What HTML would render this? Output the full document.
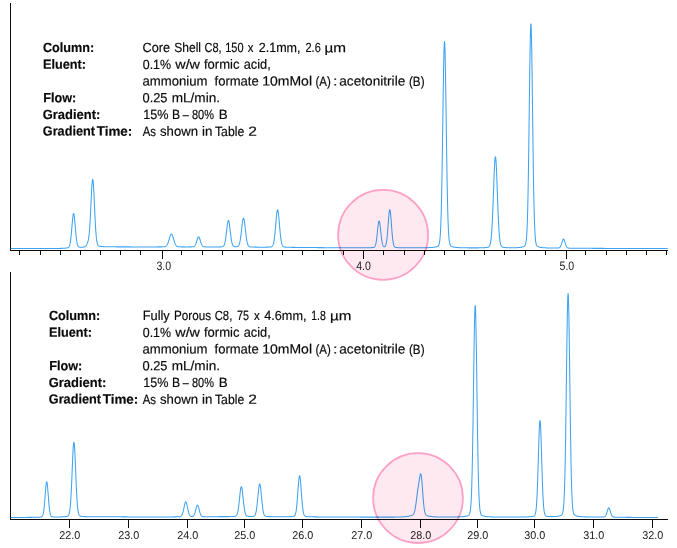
<!DOCTYPE html>
<html lang="en"><head><meta charset="utf-8"><title>Chromatogram comparison</title>
<style>html,body{margin:0;padding:0;background:#fff}svg{display:block}</style>
</head><body>
<svg width="677" height="548" viewBox="0 0 677 548">
<rect width="677" height="548" fill="#fff"/>
<g fill="#0b0b0b" shape-rendering="crispEdges">
<rect x="10" y="3" width="1" height="248"/>
<rect x="10" y="250" width="658" height="1"/>
<rect x="19" y="251" width="1" height="4"/>
<rect x="40" y="251" width="1" height="4"/>
<rect x="60" y="251" width="1" height="4"/>
<rect x="80" y="251" width="1" height="4"/>
<rect x="100" y="251" width="1" height="4"/>
<rect x="120" y="251" width="1" height="4"/>
<rect x="140" y="251" width="1" height="4"/>
<rect x="181" y="251" width="1" height="4"/>
<rect x="202" y="251" width="1" height="4"/>
<rect x="222" y="251" width="1" height="4"/>
<rect x="242" y="251" width="1" height="4"/>
<rect x="262" y="251" width="1" height="4"/>
<rect x="282" y="251" width="1" height="4"/>
<rect x="302" y="251" width="1" height="4"/>
<rect x="323" y="251" width="1" height="4"/>
<rect x="343" y="251" width="1" height="4"/>
<rect x="383" y="251" width="1" height="4"/>
<rect x="404" y="251" width="1" height="4"/>
<rect x="424" y="251" width="1" height="4"/>
<rect x="444" y="251" width="1" height="4"/>
<rect x="464" y="251" width="1" height="4"/>
<rect x="484" y="251" width="1" height="4"/>
<rect x="504" y="251" width="1" height="4"/>
<rect x="525" y="251" width="1" height="4"/>
<rect x="545" y="251" width="1" height="4"/>
<rect x="585" y="251" width="1" height="4"/>
<rect x="606" y="251" width="1" height="4"/>
<rect x="626" y="251" width="1" height="4"/>
<rect x="646" y="251" width="1" height="4"/>
<rect x="666" y="251" width="1" height="4"/>
<rect x="162" y="251" width="1" height="8"/>
<rect x="363" y="251" width="1" height="8"/>
<rect x="566" y="251" width="1" height="8"/>
<rect x="10" y="272" width="1" height="248"/>
<rect x="10" y="519" width="658" height="1"/>
<rect x="69" y="520" width="1" height="8"/>
<rect x="128" y="520" width="1" height="8"/>
<rect x="187" y="520" width="1" height="8"/>
<rect x="244" y="520" width="1" height="8"/>
<rect x="302" y="520" width="1" height="8"/>
<rect x="361" y="520" width="1" height="8"/>
<rect x="420" y="520" width="1" height="8"/>
<rect x="477" y="520" width="1" height="8"/>
<rect x="534" y="520" width="1" height="8"/>
<rect x="593" y="520" width="1" height="8"/>
<rect x="652" y="520" width="1" height="8"/>
</g>
<path d="M10.80 248.49 L11.05 248.49 L11.30 248.49 L11.55 248.49 L11.80 248.49 L12.05 248.49 L12.30 248.49 L12.55 248.49 L12.80 248.49 L13.05 248.49 L13.30 248.49 L13.55 248.49 L13.80 248.49 L14.05 248.49 L14.30 248.49 L14.55 248.49 L14.80 248.49 L15.05 248.49 L15.30 248.49 L15.55 248.49 L15.80 248.49 L16.05 248.49 L16.30 248.49 L16.55 248.49 L16.80 248.49 L17.05 248.49 L17.30 248.49 L17.55 248.49 L17.80 248.49 L18.05 248.49 L18.30 248.49 L18.55 248.49 L18.80 248.49 L19.05 248.49 L19.30 248.49 L19.55 248.49 L19.80 248.49 L20.05 248.49 L20.30 248.49 L20.55 248.49 L20.80 248.49 L21.05 248.49 L21.30 248.49 L21.55 248.49 L21.80 248.49 L22.05 248.49 L22.30 248.49 L22.55 248.49 L22.80 248.49 L23.05 248.49 L23.30 248.49 L23.55 248.49 L23.80 248.49 L24.05 248.49 L24.30 248.49 L24.55 248.49 L24.80 248.48 L25.05 248.48 L25.30 248.48 L25.55 248.48 L25.80 248.48 L26.05 248.48 L26.30 248.48 L26.55 248.48 L26.80 248.48 L27.05 248.48 L27.30 248.48 L27.55 248.48 L27.80 248.48 L28.05 248.48 L28.30 248.48 L28.55 248.48 L28.80 248.48 L29.05 248.48 L29.30 248.48 L29.55 248.48 L29.80 248.48 L30.05 248.48 L30.30 248.48 L30.55 248.48 L30.80 248.48 L31.05 248.48 L31.30 248.48 L31.55 248.48 L31.80 248.48 L32.05 248.48 L32.30 248.48 L32.55 248.48 L32.80 248.48 L33.05 248.48 L33.30 248.48 L33.55 248.48 L33.80 248.48 L34.05 248.48 L34.30 248.48 L34.55 248.48 L34.80 248.48 L35.05 248.48 L35.30 248.48 L35.55 248.48 L35.80 248.48 L36.05 248.48 L36.30 248.48 L36.55 248.48 L36.80 248.48 L37.05 248.48 L37.30 248.48 L37.55 248.48 L37.80 248.48 L38.05 248.48 L38.30 248.48 L38.55 248.48 L38.80 248.48 L39.05 248.47 L39.30 248.47 L39.55 248.47 L39.80 248.47 L40.05 248.47 L40.30 248.47 L40.55 248.47 L40.80 248.47 L41.05 248.47 L41.30 248.47 L41.55 248.47 L41.80 248.47 L42.05 248.47 L42.30 248.47 L42.55 248.47 L42.80 248.47 L43.05 248.47 L43.30 248.47 L43.55 248.47 L43.80 248.47 L44.05 248.47 L44.30 248.47 L44.55 248.47 L44.80 248.47 L45.05 248.47 L45.30 248.47 L45.55 248.47 L45.80 248.47 L46.05 248.46 L46.30 248.46 L46.55 248.46 L46.80 248.46 L47.05 248.46 L47.30 248.46 L47.55 248.46 L47.80 248.46 L48.05 248.46 L48.30 248.46 L48.55 248.46 L48.80 248.46 L49.05 248.46 L49.30 248.46 L49.55 248.46 L49.80 248.46 L50.05 248.46 L50.30 248.45 L50.55 248.45 L50.80 248.45 L51.05 248.45 L51.30 248.45 L51.55 248.45 L51.80 248.45 L52.05 248.45 L52.30 248.45 L52.55 248.45 L52.80 248.45 L53.05 248.44 L53.30 248.44 L53.55 248.44 L53.80 248.44 L54.05 248.44 L54.30 248.44 L54.55 248.44 L54.80 248.44 L55.05 248.44 L55.30 248.43 L55.55 248.43 L55.80 248.43 L56.05 248.43 L56.30 248.43 L56.55 248.43 L56.80 248.42 L57.05 248.42 L57.30 248.42 L57.55 248.42 L57.80 248.42 L58.05 248.41 L58.30 248.41 L58.55 248.41 L58.80 248.41 L59.05 248.41 L59.30 248.40 L59.55 248.40 L59.80 248.40 L60.05 248.39 L60.30 248.39 L60.55 248.39 L60.80 248.38 L61.05 248.38 L61.30 248.38 L61.55 248.37 L61.80 248.37 L62.05 248.36 L62.30 248.35 L62.55 248.33 L62.80 248.31 L63.05 248.30 L63.30 248.28 L63.55 248.26 L63.80 248.25 L64.05 248.23 L64.30 248.21 L64.55 248.19 L64.80 248.17 L65.05 248.15 L65.30 248.13 L65.55 248.10 L65.80 248.08 L66.05 248.05 L66.30 248.03 L66.55 248.00 L66.80 247.96 L67.05 247.92 L67.30 247.88 L67.55 247.82 L67.80 247.74 L68.05 247.65 L68.30 247.51 L68.55 247.33 L68.80 247.07 L69.05 246.73 L69.30 246.26 L69.55 245.64 L69.80 244.82 L70.05 243.77 L70.30 242.45 L70.55 240.84 L70.80 238.91 L71.05 236.67 L71.30 234.13 L71.55 231.35 L71.80 228.39 L72.05 225.36 L72.30 222.39 L72.55 219.61 L72.80 217.19 L73.05 215.27 L73.30 213.98 L73.55 213.43 L73.80 213.65 L74.05 214.63 L74.30 216.28 L74.55 218.50 L74.80 221.12 L75.05 224.01 L75.30 227.01 L75.55 229.98 L75.80 232.82 L76.05 235.44 L76.30 237.78 L76.55 239.81 L76.80 241.52 L77.05 242.92 L77.30 244.05 L77.55 244.93 L77.80 245.60 L78.05 246.10 L78.30 246.46 L78.55 246.72 L78.80 246.90 L79.05 247.03 L79.30 247.11 L79.55 247.17 L79.80 247.20 L80.05 247.22 L80.30 247.24 L80.55 247.24 L80.80 247.24 L81.05 247.24 L81.30 247.24 L81.55 247.23 L81.80 247.22 L82.05 247.21 L82.30 247.19 L82.55 247.18 L82.80 247.16 L83.05 247.14 L83.30 247.11 L83.55 247.08 L83.80 247.05 L84.05 247.00 L84.30 246.93 L84.55 246.85 L84.80 246.75 L85.05 246.61 L85.30 246.44 L85.55 246.22 L85.80 245.96 L86.05 245.65 L86.30 245.28 L86.55 244.86 L86.80 244.38 L87.05 243.85 L87.30 243.26 L87.55 242.60 L87.80 241.85 L88.05 240.97 L88.30 239.93 L88.55 238.66 L88.80 237.09 L89.05 235.14 L89.30 232.76 L89.55 229.87 L89.80 226.44 L90.05 222.47 L90.30 217.97 L90.55 213.02 L90.80 207.76 L91.05 202.34 L91.30 196.98 L91.55 191.91 L91.80 187.40 L92.05 183.69 L92.30 181.02 L92.55 179.57 L92.80 179.44 L93.05 180.65 L93.30 183.11 L93.55 186.66 L93.80 191.09 L94.05 196.15 L94.30 201.58 L94.55 207.15 L94.80 212.64 L95.05 217.88 L95.30 222.73 L95.55 227.09 L95.80 230.92 L96.05 234.19 L96.30 236.93 L96.55 239.16 L96.80 240.95 L97.05 242.35 L97.30 243.42 L97.55 244.23 L97.80 244.83 L98.05 245.28 L98.30 245.59 L98.55 245.82 L98.80 245.99 L99.05 246.10 L99.30 246.19 L99.55 246.25 L99.80 246.30 L100.05 246.34 L100.30 246.37 L100.55 246.41 L100.80 246.44 L101.05 246.46 L101.30 246.49 L101.55 246.51 L101.80 246.53 L102.05 246.55 L102.30 246.56 L102.55 246.58 L102.80 246.59 L103.05 246.61 L103.30 246.62 L103.55 246.63 L103.80 246.64 L104.05 246.65 L104.30 246.66 L104.55 246.67 L104.80 246.68 L105.05 246.69 L105.30 246.70 L105.55 246.71 L105.80 246.71 L106.05 246.72 L106.30 246.73 L106.55 246.73 L106.80 246.74 L107.05 246.74 L107.30 246.75 L107.55 246.75 L107.80 246.76 L108.05 246.76 L108.30 246.77 L108.55 246.77 L108.80 246.77 L109.05 246.78 L109.30 246.78 L109.55 246.79 L109.80 246.79 L110.05 246.79 L110.30 246.80 L110.55 246.80 L110.80 246.80 L111.05 246.80 L111.30 246.81 L111.55 246.81 L111.80 246.81 L112.05 246.81 L112.30 246.82 L112.55 246.82 L112.80 246.82 L113.05 246.82 L113.30 246.83 L113.55 246.83 L113.80 246.83 L114.05 246.83 L114.30 246.83 L114.55 246.84 L114.80 246.84 L115.05 246.84 L115.30 246.84 L115.55 246.84 L115.80 246.84 L116.05 246.84 L116.30 246.85 L116.55 246.85 L116.80 246.85 L117.05 246.85 L117.30 246.85 L117.55 246.85 L117.80 246.85 L118.05 246.86 L118.30 246.86 L118.55 246.86 L118.80 246.86 L119.05 246.86 L119.30 246.86 L119.55 246.86 L119.80 246.86 L120.05 246.86 L120.30 246.87 L120.55 246.87 L120.80 246.87 L121.05 246.87 L121.30 246.87 L121.55 246.87 L121.80 246.87 L122.05 246.87 L122.30 246.87 L122.55 246.87 L122.80 246.87 L123.05 246.87 L123.30 246.88 L123.55 246.88 L123.80 246.88 L124.05 246.88 L124.30 246.88 L124.55 246.88 L124.80 246.88 L125.05 246.88 L125.30 246.88 L125.55 246.88 L125.80 246.88 L126.05 246.88 L126.30 246.88 L126.55 246.88 L126.80 246.89 L127.05 246.89 L127.30 246.89 L127.55 246.89 L127.80 246.89 L128.05 246.89 L128.30 246.89 L128.55 246.89 L128.80 246.89 L129.05 246.89 L129.30 246.89 L129.55 246.89 L129.80 246.89 L130.05 246.89 L130.30 246.89 L130.55 246.89 L130.80 246.89 L131.05 246.89 L131.30 246.89 L131.55 246.90 L131.80 246.90 L132.05 246.90 L132.30 246.90 L132.55 246.90 L132.80 246.90 L133.05 246.90 L133.30 246.90 L133.55 246.90 L133.80 246.90 L134.05 246.90 L134.30 246.90 L134.55 246.90 L134.80 246.90 L135.05 246.90 L135.30 246.90 L135.55 246.90 L135.80 246.90 L136.05 246.90 L136.30 246.90 L136.55 246.90 L136.80 246.90 L137.05 246.90 L137.30 246.90 L137.55 246.90 L137.80 246.90 L138.05 246.90 L138.30 246.91 L138.55 246.91 L138.80 246.91 L139.05 246.91 L139.30 246.91 L139.55 246.91 L139.80 246.91 L140.05 246.91 L140.30 246.91 L140.55 246.91 L140.80 246.91 L141.05 246.91 L141.30 246.91 L141.55 246.91 L141.80 246.91 L142.05 246.91 L142.30 246.91 L142.55 246.91 L142.80 246.91 L143.05 246.91 L143.30 246.91 L143.55 246.91 L143.80 246.91 L144.05 246.91 L144.30 246.91 L144.55 246.91 L144.80 246.91 L145.05 246.91 L145.30 246.91 L145.55 246.91 L145.80 246.91 L146.05 246.91 L146.30 246.91 L146.55 246.91 L146.80 246.91 L147.05 246.91 L147.30 246.91 L147.55 246.91 L147.80 246.91 L148.05 246.91 L148.30 246.91 L148.55 246.91 L148.80 246.91 L149.05 246.91 L149.30 246.91 L149.55 246.91 L149.80 246.91 L150.05 246.91 L150.30 246.91 L150.55 246.91 L150.80 246.91 L151.05 246.91 L151.30 246.91 L151.55 246.91 L151.80 246.91 L152.05 246.91 L152.30 246.91 L152.55 246.91 L152.80 246.91 L153.05 246.91 L153.30 246.91 L153.55 246.91 L153.80 246.91 L154.05 246.91 L154.30 246.91 L154.55 246.90 L154.80 246.90 L155.05 246.90 L155.30 246.90 L155.55 246.90 L155.80 246.90 L156.05 246.90 L156.30 246.90 L156.55 246.90 L156.80 246.90 L157.05 246.90 L157.30 246.89 L157.55 246.89 L157.80 246.89 L158.05 246.89 L158.30 246.89 L158.55 246.89 L158.80 246.89 L159.05 246.88 L159.30 246.88 L159.55 246.88 L159.80 246.88 L160.05 246.88 L160.30 246.87 L160.55 246.87 L160.80 246.87 L161.05 246.86 L161.30 246.86 L161.55 246.86 L161.80 246.85 L162.05 246.85 L162.30 246.84 L162.55 246.84 L162.80 246.83 L163.05 246.82 L163.30 246.81 L163.55 246.79 L163.80 246.78 L164.05 246.75 L164.30 246.73 L164.55 246.69 L164.80 246.64 L165.05 246.57 L165.30 246.49 L165.55 246.39 L165.80 246.25 L166.05 246.08 L166.30 245.88 L166.55 245.62 L166.80 245.31 L167.05 244.94 L167.30 244.51 L167.55 244.01 L167.80 243.44 L168.05 242.80 L168.30 242.09 L168.55 241.33 L168.80 240.51 L169.05 239.66 L169.30 238.80 L169.55 237.94 L169.80 237.10 L170.05 236.32 L170.30 235.62 L170.55 235.03 L170.80 234.56 L171.05 234.24 L171.30 234.09 L171.55 234.11 L171.80 234.30 L172.05 234.64 L172.30 235.14 L172.55 235.76 L172.80 236.48 L173.05 237.27 L173.30 238.11 L173.55 238.97 L173.80 239.84 L174.05 240.68 L174.30 241.49 L174.55 242.24 L174.80 242.93 L175.05 243.56 L175.30 244.12 L175.55 244.61 L175.80 245.03 L176.05 245.38 L176.30 245.68 L176.55 245.92 L176.80 246.12 L177.05 246.29 L177.30 246.41 L177.55 246.51 L177.80 246.59 L178.05 246.65 L178.30 246.70 L178.55 246.74 L178.80 246.77 L179.05 246.79 L179.30 246.80 L179.55 246.82 L179.80 246.83 L180.05 246.84 L180.30 246.84 L180.55 246.85 L180.80 246.85 L181.05 246.86 L181.30 246.86 L181.55 246.87 L181.80 246.87 L182.05 246.87 L182.30 246.88 L182.55 246.88 L182.80 246.88 L183.05 246.88 L183.30 246.89 L183.55 246.89 L183.80 246.89 L184.05 246.89 L184.30 246.89 L184.55 246.89 L184.80 246.89 L185.05 246.90 L185.30 246.90 L185.55 246.90 L185.80 246.90 L186.05 246.90 L186.30 246.90 L186.55 246.90 L186.80 246.90 L187.05 246.90 L187.30 246.90 L187.55 246.90 L187.80 246.90 L188.05 246.90 L188.30 246.90 L188.55 246.90 L188.80 246.89 L189.05 246.89 L189.30 246.89 L189.55 246.89 L189.80 246.89 L190.05 246.88 L190.30 246.88 L190.55 246.88 L190.80 246.88 L191.05 246.87 L191.30 246.87 L191.55 246.86 L191.80 246.85 L192.05 246.84 L192.30 246.83 L192.55 246.81 L192.80 246.79 L193.05 246.75 L193.30 246.70 L193.55 246.64 L193.80 246.55 L194.05 246.42 L194.30 246.26 L194.55 246.05 L194.80 245.78 L195.05 245.44 L195.30 245.02 L195.55 244.52 L195.80 243.94 L196.05 243.28 L196.30 242.54 L196.55 241.74 L196.80 240.91 L197.05 240.07 L197.30 239.26 L197.55 238.51 L197.80 237.86 L198.05 237.34 L198.30 237.01 L198.55 236.86 L198.80 236.92 L199.05 237.19 L199.30 237.63 L199.55 238.23 L199.80 238.95 L200.05 239.74 L200.30 240.58 L200.55 241.42 L200.80 242.23 L201.05 243.00 L201.30 243.69 L201.55 244.31 L201.80 244.84 L202.05 245.29 L202.30 245.66 L202.55 245.96 L202.80 246.20 L203.05 246.38 L203.30 246.52 L203.55 246.62 L203.80 246.70 L204.05 246.76 L204.30 246.80 L204.55 246.83 L204.80 246.85 L205.05 246.87 L205.30 246.88 L205.55 246.89 L205.80 246.90 L206.05 246.90 L206.30 246.91 L206.55 246.91 L206.80 246.92 L207.05 246.92 L207.30 246.93 L207.55 246.93 L207.80 246.93 L208.05 246.94 L208.30 246.94 L208.55 246.94 L208.80 246.94 L209.05 246.95 L209.30 246.95 L209.55 246.95 L209.80 246.95 L210.05 246.95 L210.30 246.95 L210.55 246.96 L210.80 246.96 L211.05 246.96 L211.30 246.96 L211.55 246.96 L211.80 246.96 L212.05 246.96 L212.30 246.96 L212.55 246.96 L212.80 246.96 L213.05 246.96 L213.30 246.96 L213.55 246.96 L213.80 246.96 L214.05 246.96 L214.30 246.96 L214.55 246.96 L214.80 246.96 L215.05 246.96 L215.30 246.96 L215.55 246.96 L215.80 246.96 L216.05 246.95 L216.30 246.95 L216.55 246.95 L216.80 246.95 L217.05 246.95 L217.30 246.94 L217.55 246.94 L217.80 246.94 L218.05 246.93 L218.30 246.93 L218.55 246.92 L218.80 246.92 L219.05 246.91 L219.30 246.91 L219.55 246.90 L219.80 246.89 L220.05 246.89 L220.30 246.88 L220.55 246.87 L220.80 246.86 L221.05 246.84 L221.30 246.82 L221.55 246.80 L221.80 246.78 L222.05 246.74 L222.30 246.69 L222.55 246.62 L222.80 246.53 L223.05 246.40 L223.30 246.22 L223.55 245.99 L223.80 245.66 L224.05 245.24 L224.30 244.69 L224.55 243.99 L224.80 243.11 L225.05 242.03 L225.30 240.75 L225.55 239.25 L225.80 237.54 L226.05 235.63 L226.30 233.58 L226.55 231.43 L226.80 229.24 L227.05 227.11 L227.30 225.13 L227.55 223.39 L227.80 222.00 L228.05 221.03 L228.30 220.56 L228.55 220.61 L228.80 221.18 L229.05 222.24 L229.30 223.71 L229.55 225.50 L229.80 227.52 L230.05 229.67 L230.30 231.85 L230.55 233.99 L230.80 236.01 L231.05 237.88 L231.30 239.54 L231.55 241.00 L231.80 242.24 L232.05 243.27 L232.30 244.11 L232.55 244.77 L232.80 245.29 L233.05 245.69 L233.30 245.99 L233.55 246.21 L233.80 246.37 L234.05 246.49 L234.30 246.57 L234.55 246.62 L234.80 246.66 L235.05 246.69 L235.30 246.70 L235.55 246.71 L235.80 246.71 L236.05 246.71 L236.30 246.70 L236.55 246.68 L236.80 246.65 L237.05 246.61 L237.30 246.55 L237.55 246.46 L237.80 246.34 L238.05 246.18 L238.30 245.95 L238.55 245.65 L238.80 245.26 L239.05 244.75 L239.30 244.11 L239.55 243.30 L239.80 242.31 L240.05 241.13 L240.30 239.74 L240.55 238.13 L240.80 236.33 L241.05 234.34 L241.30 232.22 L241.55 230.00 L241.80 227.76 L242.05 225.56 L242.30 223.51 L242.55 221.67 L242.80 220.16 L243.05 219.04 L243.30 218.38 L243.55 218.23 L243.80 218.59 L244.05 219.45 L244.30 220.74 L244.55 222.40 L244.80 224.34 L245.05 226.46 L245.30 228.69 L245.55 230.94 L245.80 233.13 L246.05 235.21 L246.30 237.14 L246.55 238.87 L246.80 240.39 L247.05 241.71 L247.30 242.82 L247.55 243.74 L247.80 244.49 L248.05 245.08 L248.30 245.55 L248.55 245.91 L248.80 246.19 L249.05 246.39 L249.30 246.55 L249.55 246.66 L249.80 246.75 L250.05 246.81 L250.30 246.86 L250.55 246.90 L250.80 246.93 L251.05 246.95 L251.30 246.97 L251.55 246.99 L251.80 247.00 L252.05 247.01 L252.30 247.02 L252.55 247.03 L252.80 247.04 L253.05 247.05 L253.30 247.06 L253.55 247.07 L253.80 247.08 L254.05 247.08 L254.30 247.09 L254.55 247.10 L254.80 247.10 L255.05 247.11 L255.30 247.11 L255.55 247.12 L255.80 247.12 L256.05 247.13 L256.30 247.13 L256.55 247.13 L256.80 247.14 L257.05 247.14 L257.30 247.14 L257.55 247.15 L257.80 247.15 L258.05 247.15 L258.30 247.15 L258.55 247.16 L258.80 247.16 L259.05 247.16 L259.30 247.16 L259.55 247.16 L259.80 247.17 L260.05 247.17 L260.30 247.17 L260.55 247.17 L260.80 247.17 L261.05 247.17 L261.30 247.17 L261.55 247.17 L261.80 247.17 L262.05 247.17 L262.30 247.17 L262.55 247.17 L262.80 247.17 L263.05 247.17 L263.30 247.17 L263.55 247.17 L263.80 247.17 L264.05 247.17 L264.30 247.17 L264.55 247.17 L264.80 247.17 L265.05 247.16 L265.30 247.16 L265.55 247.16 L265.80 247.16 L266.05 247.15 L266.30 247.15 L266.55 247.14 L266.80 247.14 L267.05 247.13 L267.30 247.13 L267.55 247.12 L267.80 247.12 L268.05 247.11 L268.30 247.10 L268.55 247.09 L268.80 247.08 L269.05 247.07 L269.30 247.06 L269.55 247.04 L269.80 247.03 L270.05 247.01 L270.30 246.99 L270.55 246.96 L270.80 246.92 L271.05 246.87 L271.30 246.80 L271.55 246.70 L271.80 246.58 L272.05 246.41 L272.30 246.17 L272.55 245.85 L272.80 245.43 L273.05 244.88 L273.30 244.16 L273.55 243.25 L273.80 242.12 L274.05 240.73 L274.30 239.07 L274.55 237.13 L274.80 234.90 L275.05 232.41 L275.30 229.69 L275.55 226.81 L275.80 223.83 L276.05 220.86 L276.30 218.01 L276.55 215.41 L276.80 213.17 L277.05 211.42 L277.30 210.27 L277.55 209.79 L277.80 210.00 L278.05 210.89 L278.30 212.41 L278.55 214.47 L278.80 216.95 L279.05 219.72 L279.30 222.65 L279.55 225.64 L279.80 228.58 L280.05 231.38 L280.30 233.97 L280.55 236.31 L280.80 238.37 L281.05 240.14 L281.30 241.64 L281.55 242.87 L281.80 243.87 L282.05 244.66 L282.30 245.28 L282.55 245.76 L282.80 246.12 L283.05 246.38 L283.30 246.58 L283.55 246.73 L283.80 246.84 L284.05 246.92 L284.30 246.98 L284.55 247.02 L284.80 247.06 L285.05 247.09 L285.30 247.11 L285.55 247.13 L285.80 247.15 L286.05 247.17 L286.30 247.18 L286.55 247.20 L286.80 247.21 L287.05 247.22 L287.30 247.23 L287.55 247.24 L287.80 247.25 L288.05 247.26 L288.30 247.27 L288.55 247.28 L288.80 247.28 L289.05 247.29 L289.30 247.30 L289.55 247.30 L289.80 247.31 L290.05 247.32 L290.30 247.32 L290.55 247.33 L290.80 247.33 L291.05 247.34 L291.30 247.34 L291.55 247.35 L291.80 247.35 L292.05 247.35 L292.30 247.36 L292.55 247.36 L292.80 247.37 L293.05 247.37 L293.30 247.37 L293.55 247.38 L293.80 247.38 L294.05 247.38 L294.30 247.39 L294.55 247.39 L294.80 247.39 L295.05 247.40 L295.30 247.40 L295.55 247.40 L295.80 247.41 L296.05 247.41 L296.30 247.41 L296.55 247.41 L296.80 247.42 L297.05 247.42 L297.30 247.42 L297.55 247.42 L297.80 247.43 L298.05 247.43 L298.30 247.43 L298.55 247.43 L298.80 247.43 L299.05 247.44 L299.30 247.44 L299.55 247.44 L299.80 247.44 L300.05 247.45 L300.30 247.45 L300.55 247.45 L300.80 247.45 L301.05 247.46 L301.30 247.46 L301.55 247.46 L301.80 247.46 L302.05 247.47 L302.30 247.47 L302.55 247.47 L302.80 247.47 L303.05 247.48 L303.30 247.48 L303.55 247.48 L303.80 247.48 L304.05 247.49 L304.30 247.49 L304.55 247.49 L304.80 247.49 L305.05 247.49 L305.30 247.50 L305.55 247.50 L305.80 247.50 L306.05 247.50 L306.30 247.51 L306.55 247.51 L306.80 247.51 L307.05 247.51 L307.30 247.52 L307.55 247.52 L307.80 247.52 L308.05 247.52 L308.30 247.52 L308.55 247.53 L308.80 247.53 L309.05 247.53 L309.30 247.53 L309.55 247.53 L309.80 247.54 L310.05 247.54 L310.30 247.54 L310.55 247.54 L310.80 247.55 L311.05 247.55 L311.30 247.55 L311.55 247.55 L311.80 247.55 L312.05 247.56 L312.30 247.56 L312.55 247.56 L312.80 247.56 L313.05 247.56 L313.30 247.57 L313.55 247.57 L313.80 247.57 L314.05 247.57 L314.30 247.57 L314.55 247.58 L314.80 247.58 L315.05 247.58 L315.30 247.58 L315.55 247.58 L315.80 247.59 L316.05 247.59 L316.30 247.59 L316.55 247.59 L316.80 247.59 L317.05 247.60 L317.30 247.60 L317.55 247.60 L317.80 247.60 L318.05 247.60 L318.30 247.61 L318.55 247.61 L318.80 247.61 L319.05 247.61 L319.30 247.61 L319.55 247.62 L319.80 247.62 L320.05 247.62 L320.30 247.62 L320.55 247.62 L320.80 247.63 L321.05 247.63 L321.30 247.63 L321.55 247.63 L321.80 247.63 L322.05 247.64 L322.30 247.64 L322.55 247.64 L322.80 247.64 L323.05 247.64 L323.30 247.64 L323.55 247.65 L323.80 247.65 L324.05 247.65 L324.30 247.65 L324.55 247.65 L324.80 247.66 L325.05 247.66 L325.30 247.66 L325.55 247.66 L325.80 247.66 L326.05 247.67 L326.30 247.67 L326.55 247.67 L326.80 247.67 L327.05 247.67 L327.30 247.68 L327.55 247.68 L327.80 247.68 L328.05 247.68 L328.30 247.68 L328.55 247.68 L328.80 247.69 L329.05 247.69 L329.30 247.69 L329.55 247.69 L329.80 247.69 L330.05 247.70 L330.30 247.70 L330.55 247.70 L330.80 247.70 L331.05 247.70 L331.30 247.70 L331.55 247.71 L331.80 247.71 L332.05 247.71 L332.30 247.71 L332.55 247.71 L332.80 247.72 L333.05 247.72 L333.30 247.72 L333.55 247.72 L333.80 247.72 L334.05 247.72 L334.30 247.73 L334.55 247.73 L334.80 247.73 L335.05 247.73 L335.30 247.73 L335.55 247.74 L335.80 247.74 L336.05 247.74 L336.30 247.74 L336.55 247.74 L336.80 247.74 L337.05 247.75 L337.30 247.75 L337.55 247.75 L337.80 247.75 L338.05 247.75 L338.30 247.75 L338.55 247.76 L338.80 247.76 L339.05 247.76 L339.30 247.76 L339.55 247.76 L339.80 247.77 L340.05 247.77 L340.30 247.77 L340.55 247.77 L340.80 247.77 L341.05 247.77 L341.30 247.77 L341.55 247.77 L341.80 247.77 L342.05 247.77 L342.30 247.77 L342.55 247.77 L342.80 247.77 L343.05 247.77 L343.30 247.77 L343.55 247.77 L343.80 247.77 L344.05 247.77 L344.30 247.77 L344.55 247.77 L344.80 247.77 L345.05 247.77 L345.30 247.78 L345.55 247.78 L345.80 247.78 L346.05 247.78 L346.30 247.78 L346.55 247.78 L346.80 247.78 L347.05 247.78 L347.30 247.78 L347.55 247.78 L347.80 247.78 L348.05 247.78 L348.30 247.78 L348.55 247.78 L348.80 247.78 L349.05 247.78 L349.30 247.78 L349.55 247.78 L349.80 247.78 L350.05 247.78 L350.30 247.78 L350.55 247.78 L350.80 247.78 L351.05 247.78 L351.30 247.78 L351.55 247.78 L351.80 247.78 L352.05 247.78 L352.30 247.78 L352.55 247.78 L352.80 247.78 L353.05 247.78 L353.30 247.78 L353.55 247.78 L353.80 247.78 L354.05 247.78 L354.30 247.78 L354.55 247.78 L354.80 247.78 L355.05 247.78 L355.30 247.78 L355.55 247.78 L355.80 247.78 L356.05 247.78 L356.30 247.78 L356.55 247.78 L356.80 247.78 L357.05 247.78 L357.30 247.78 L357.55 247.78 L357.80 247.78 L358.05 247.78 L358.30 247.78 L358.55 247.78 L358.80 247.78 L359.05 247.78 L359.30 247.78 L359.55 247.78 L359.80 247.78 L360.05 247.78 L360.30 247.78 L360.55 247.78 L360.80 247.78 L361.05 247.78 L361.30 247.78 L361.55 247.78 L361.80 247.77 L362.05 247.77 L362.30 247.77 L362.55 247.77 L362.80 247.77 L363.05 247.77 L363.30 247.77 L363.55 247.77 L363.80 247.77 L364.05 247.77 L364.30 247.76 L364.55 247.76 L364.80 247.76 L365.05 247.76 L365.30 247.76 L365.55 247.76 L365.80 247.75 L366.05 247.75 L366.30 247.75 L366.55 247.75 L366.80 247.74 L367.05 247.74 L367.30 247.74 L367.55 247.73 L367.80 247.73 L368.05 247.73 L368.30 247.72 L368.55 247.72 L368.80 247.72 L369.05 247.71 L369.30 247.71 L369.55 247.70 L369.80 247.69 L370.05 247.69 L370.30 247.68 L370.55 247.67 L370.80 247.66 L371.05 247.66 L371.30 247.65 L371.55 247.63 L371.80 247.62 L372.05 247.61 L372.30 247.59 L372.55 247.57 L372.80 247.55 L373.05 247.51 L373.30 247.47 L373.55 247.41 L373.80 247.33 L374.05 247.21 L374.30 247.05 L374.55 246.82 L374.80 246.50 L375.05 246.07 L375.30 245.49 L375.55 244.74 L375.80 243.78 L376.05 242.58 L376.30 241.13 L376.55 239.42 L376.80 237.46 L377.05 235.29 L377.30 232.96 L377.55 230.56 L377.80 228.19 L378.05 225.96 L378.30 224.00 L378.55 222.45 L378.80 221.41 L379.05 220.96 L379.30 221.15 L379.55 221.95 L379.80 223.30 L380.05 225.10 L380.30 227.22 L380.55 229.54 L380.80 231.93 L381.05 234.29 L381.30 236.52 L381.55 238.55 L381.80 240.35 L382.05 241.89 L382.30 243.17 L382.55 244.20 L382.80 245.02 L383.05 245.64 L383.30 246.09 L383.55 246.42 L383.80 246.63 L384.05 246.75 L384.30 246.80 L384.55 246.77 L384.80 246.66 L385.05 246.46 L385.30 246.15 L385.55 245.70 L385.80 245.07 L386.05 244.22 L386.30 243.11 L386.55 241.69 L386.80 239.93 L387.05 237.80 L387.30 235.31 L387.55 232.47 L387.80 229.34 L388.05 226.01 L388.30 222.60 L388.55 219.26 L388.80 216.16 L389.05 213.49 L389.30 211.43 L389.55 210.12 L389.80 209.67 L390.05 210.13 L390.30 211.44 L390.55 213.52 L390.80 216.20 L391.05 219.30 L391.30 222.65 L391.55 226.07 L391.80 229.41 L392.05 232.55 L392.30 235.40 L392.55 237.91 L392.80 240.04 L393.05 241.82 L393.30 243.25 L393.55 244.38 L393.80 245.24 L394.05 245.90 L394.30 246.38 L394.55 246.73 L394.80 246.98 L395.05 247.15 L395.30 247.28 L395.55 247.37 L395.80 247.43 L396.05 247.48 L396.30 247.52 L396.55 247.55 L396.80 247.57 L397.05 247.59 L397.30 247.61 L397.55 247.62 L397.80 247.64 L398.05 247.65 L398.30 247.66 L398.55 247.67 L398.80 247.68 L399.05 247.69 L399.30 247.70 L399.55 247.71 L399.80 247.72 L400.05 247.73 L400.30 247.73 L400.55 247.74 L400.80 247.74 L401.05 247.75 L401.30 247.76 L401.55 247.76 L401.80 247.76 L402.05 247.77 L402.30 247.77 L402.55 247.78 L402.80 247.78 L403.05 247.78 L403.30 247.79 L403.55 247.79 L403.80 247.79 L404.05 247.80 L404.30 247.80 L404.55 247.80 L404.80 247.80 L405.05 247.81 L405.30 247.81 L405.55 247.81 L405.80 247.81 L406.05 247.81 L406.30 247.81 L406.55 247.82 L406.80 247.82 L407.05 247.82 L407.30 247.82 L407.55 247.82 L407.80 247.82 L408.05 247.82 L408.30 247.82 L408.55 247.83 L408.80 247.83 L409.05 247.83 L409.30 247.83 L409.55 247.83 L409.80 247.83 L410.05 247.83 L410.30 247.83 L410.55 247.83 L410.80 247.83 L411.05 247.83 L411.30 247.83 L411.55 247.83 L411.80 247.83 L412.05 247.83 L412.30 247.83 L412.55 247.83 L412.80 247.83 L413.05 247.83 L413.30 247.83 L413.55 247.83 L413.80 247.83 L414.05 247.83 L414.30 247.83 L414.55 247.83 L414.80 247.83 L415.05 247.83 L415.30 247.83 L415.55 247.83 L415.80 247.83 L416.05 247.83 L416.30 247.83 L416.55 247.82 L416.80 247.82 L417.05 247.82 L417.30 247.82 L417.55 247.82 L417.80 247.82 L418.05 247.82 L418.30 247.82 L418.55 247.81 L418.80 247.81 L419.05 247.81 L419.30 247.81 L419.55 247.81 L419.80 247.81 L420.05 247.80 L420.30 247.80 L420.55 247.80 L420.80 247.80 L421.05 247.80 L421.30 247.79 L421.55 247.79 L421.80 247.79 L422.05 247.78 L422.30 247.78 L422.55 247.78 L422.80 247.78 L423.05 247.77 L423.30 247.77 L423.55 247.76 L423.80 247.76 L424.05 247.76 L424.30 247.75 L424.55 247.75 L424.80 247.74 L425.05 247.74 L425.30 247.73 L425.55 247.73 L425.80 247.72 L426.05 247.72 L426.30 247.71 L426.55 247.70 L426.80 247.70 L427.05 247.69 L427.30 247.68 L427.55 247.68 L427.80 247.67 L428.05 247.66 L428.30 247.65 L428.55 247.64 L428.80 247.63 L429.05 247.62 L429.30 247.61 L429.55 247.60 L429.80 247.59 L430.05 247.57 L430.30 247.56 L430.55 247.55 L430.80 247.53 L431.05 247.52 L431.30 247.50 L431.55 247.48 L431.80 247.46 L432.05 247.44 L432.30 247.42 L432.55 247.40 L432.80 247.38 L433.05 247.35 L433.30 247.33 L433.55 247.30 L433.80 247.27 L434.05 247.23 L434.30 247.20 L434.55 247.16 L434.80 247.12 L435.05 247.08 L435.30 247.03 L435.55 246.98 L435.80 246.92 L436.05 246.86 L436.30 246.80 L436.55 246.72 L436.80 246.64 L437.05 246.55 L437.30 246.44 L437.55 246.32 L437.80 246.17 L438.05 245.97 L438.30 245.72 L438.55 245.38 L438.80 244.91 L439.05 244.26 L439.30 243.35 L439.55 242.08 L439.80 240.32 L440.05 237.91 L440.30 234.67 L440.55 230.39 L440.80 224.85 L441.05 217.84 L441.30 209.16 L441.55 198.67 L441.80 186.33 L442.05 172.20 L442.30 156.47 L442.55 139.49 L442.80 121.78 L443.05 104.00 L443.30 86.91 L443.55 71.40 L443.80 58.35 L444.05 48.59 L444.30 42.81 L444.55 41.45 L444.80 44.61 L445.05 52.05 L445.30 63.22 L445.55 77.37 L445.80 93.61 L446.05 111.08 L446.30 128.92 L446.55 146.41 L446.80 162.94 L447.05 178.06 L447.30 191.50 L447.55 203.10 L447.80 212.85 L448.05 220.85 L448.30 227.25 L448.55 232.26 L448.80 236.09 L449.05 238.98 L449.30 241.10 L449.55 242.65 L449.80 243.77 L450.05 244.56 L450.30 245.13 L450.55 245.55 L450.80 245.85 L451.05 246.08 L451.30 246.25 L451.55 246.39 L451.80 246.51 L452.05 246.61 L452.30 246.70 L452.55 246.78 L452.80 246.85 L453.05 246.91 L453.30 246.97 L453.55 247.03 L453.80 247.08 L454.05 247.12 L454.30 247.17 L454.55 247.21 L454.80 247.24 L455.05 247.28 L455.30 247.31 L455.55 247.34 L455.80 247.37 L456.05 247.40 L456.30 247.42 L456.55 247.45 L456.80 247.47 L457.05 247.49 L457.30 247.51 L457.55 247.53 L457.80 247.55 L458.05 247.56 L458.30 247.58 L458.55 247.59 L458.80 247.61 L459.05 247.62 L459.30 247.64 L459.55 247.65 L459.80 247.66 L460.05 247.67 L460.30 247.68 L460.55 247.69 L460.80 247.70 L461.05 247.71 L461.30 247.72 L461.55 247.73 L461.80 247.73 L462.05 247.74 L462.30 247.75 L462.55 247.76 L462.80 247.76 L463.05 247.77 L463.30 247.78 L463.55 247.78 L463.80 247.79 L464.05 247.79 L464.30 247.80 L464.55 247.80 L464.80 247.81 L465.05 247.81 L465.30 247.82 L465.55 247.82 L465.80 247.82 L466.05 247.83 L466.30 247.83 L466.55 247.83 L466.80 247.84 L467.05 247.84 L467.30 247.84 L467.55 247.85 L467.80 247.85 L468.05 247.85 L468.30 247.85 L468.55 247.86 L468.80 247.86 L469.05 247.86 L469.30 247.86 L469.55 247.86 L469.80 247.87 L470.05 247.87 L470.30 247.87 L470.55 247.87 L470.80 247.87 L471.05 247.87 L471.30 247.87 L471.55 247.87 L471.80 247.87 L472.05 247.88 L472.30 247.88 L472.55 247.88 L472.80 247.88 L473.05 247.88 L473.30 247.88 L473.55 247.88 L473.80 247.88 L474.05 247.88 L474.30 247.88 L474.55 247.87 L474.80 247.87 L475.05 247.87 L475.30 247.87 L475.55 247.87 L475.80 247.87 L476.05 247.87 L476.30 247.87 L476.55 247.86 L476.80 247.86 L477.05 247.86 L477.30 247.86 L477.55 247.86 L477.80 247.85 L478.05 247.85 L478.30 247.85 L478.55 247.84 L478.80 247.84 L479.05 247.84 L479.30 247.83 L479.55 247.83 L479.80 247.82 L480.05 247.82 L480.30 247.81 L480.55 247.81 L480.80 247.80 L481.05 247.79 L481.30 247.79 L481.55 247.78 L481.80 247.77 L482.05 247.76 L482.30 247.75 L482.55 247.74 L482.80 247.73 L483.05 247.72 L483.30 247.71 L483.55 247.70 L483.80 247.69 L484.05 247.67 L484.30 247.66 L484.55 247.64 L484.80 247.63 L485.05 247.61 L485.30 247.59 L485.55 247.57 L485.80 247.54 L486.05 247.52 L486.30 247.49 L486.55 247.46 L486.80 247.43 L487.05 247.39 L487.30 247.35 L487.55 247.30 L487.80 247.23 L488.05 247.16 L488.30 247.07 L488.55 246.94 L488.80 246.78 L489.05 246.57 L489.30 246.28 L489.55 245.90 L489.80 245.38 L490.05 244.69 L490.30 243.78 L490.55 242.60 L490.80 241.08 L491.05 239.16 L491.30 236.77 L491.55 233.85 L491.80 230.34 L492.05 226.21 L492.30 221.44 L492.55 216.05 L492.80 210.10 L493.05 203.66 L493.30 196.88 L493.55 189.94 L493.80 183.04 L494.05 176.43 L494.30 170.37 L494.55 165.13 L494.80 160.97 L495.05 158.11 L495.30 156.72 L495.55 156.88 L495.80 158.57 L496.05 161.70 L496.30 166.10 L496.55 171.52 L496.80 177.71 L497.05 184.40 L497.30 191.33 L497.55 198.26 L497.80 204.98 L498.05 211.33 L498.30 217.18 L498.55 222.44 L498.80 227.08 L499.05 231.09 L499.30 234.47 L499.55 237.28 L499.80 239.57 L500.05 241.41 L500.30 242.85 L500.55 243.98 L500.80 244.84 L501.05 245.49 L501.30 245.98 L501.55 246.34 L501.80 246.61 L502.05 246.81 L502.30 246.96 L502.55 247.08 L502.80 247.17 L503.05 247.24 L503.30 247.30 L503.55 247.34 L503.80 247.39 L504.05 247.42 L504.30 247.45 L504.55 247.48 L504.80 247.51 L505.05 247.53 L505.30 247.55 L505.55 247.57 L505.80 247.59 L506.05 247.61 L506.30 247.62 L506.55 247.64 L506.80 247.65 L507.05 247.66 L507.30 247.68 L507.55 247.69 L507.80 247.70 L508.05 247.70 L508.30 247.71 L508.55 247.72 L508.80 247.73 L509.05 247.73 L509.30 247.74 L509.55 247.74 L509.80 247.75 L510.05 247.75 L510.30 247.75 L510.55 247.75 L510.80 247.76 L511.05 247.76 L511.30 247.76 L511.55 247.76 L511.80 247.76 L512.05 247.76 L512.30 247.76 L512.55 247.76 L512.80 247.76 L513.05 247.75 L513.30 247.75 L513.55 247.75 L513.80 247.74 L514.05 247.74 L514.30 247.73 L514.55 247.73 L514.80 247.72 L515.05 247.72 L515.30 247.71 L515.55 247.70 L515.80 247.69 L516.05 247.68 L516.30 247.67 L516.55 247.66 L516.80 247.65 L517.05 247.64 L517.30 247.63 L517.55 247.61 L517.80 247.60 L518.05 247.58 L518.30 247.56 L518.55 247.54 L518.80 247.52 L519.05 247.50 L519.30 247.48 L519.55 247.45 L519.80 247.43 L520.05 247.40 L520.30 247.37 L520.55 247.33 L520.80 247.30 L521.05 247.26 L521.30 247.22 L521.55 247.17 L521.80 247.12 L522.05 247.07 L522.30 247.01 L522.55 246.95 L522.80 246.88 L523.05 246.80 L523.30 246.71 L523.55 246.62 L523.80 246.51 L524.05 246.38 L524.30 246.22 L524.55 246.01 L524.80 245.75 L525.05 245.39 L525.30 244.90 L525.55 244.21 L525.80 243.24 L526.05 241.87 L526.30 239.96 L526.55 237.32 L526.80 233.74 L527.05 228.97 L527.30 222.76 L527.55 214.85 L527.80 205.02 L528.05 193.13 L528.30 179.12 L528.55 163.07 L528.80 145.26 L529.05 126.12 L529.30 106.28 L529.55 86.56 L529.80 67.90 L530.05 51.33 L530.30 37.88 L530.55 28.48 L530.80 23.86 L531.05 24.38 L531.30 30.00 L531.55 40.28 L531.80 54.43 L532.05 71.51 L532.30 90.46 L532.55 110.28 L532.80 130.04 L533.05 148.96 L533.30 166.46 L533.55 182.11 L533.80 195.71 L534.05 207.18 L534.30 216.61 L534.55 224.16 L534.80 230.07 L535.05 234.58 L535.30 237.96 L535.55 240.44 L535.80 242.23 L536.05 243.51 L536.30 244.42 L536.55 245.07 L536.80 245.53 L537.05 245.87 L537.30 246.12 L537.55 246.31 L537.80 246.47 L538.05 246.60 L538.30 246.71 L538.55 246.81 L538.80 246.89 L539.05 246.97 L539.30 247.04 L539.55 247.10 L539.80 247.16 L540.05 247.22 L540.30 247.27 L540.55 247.32 L540.80 247.36 L541.05 247.40 L541.30 247.44 L541.55 247.48 L541.80 247.51 L542.05 247.54 L542.30 247.57 L542.55 247.60 L542.80 247.63 L543.05 247.65 L543.30 247.67 L543.55 247.70 L543.80 247.72 L544.05 247.74 L544.30 247.75 L544.55 247.77 L544.80 247.79 L545.05 247.80 L545.30 247.82 L545.55 247.83 L545.80 247.85 L546.05 247.86 L546.30 247.87 L546.55 247.88 L546.80 247.90 L547.05 247.91 L547.30 247.92 L547.55 247.93 L547.80 247.94 L548.05 247.95 L548.30 247.95 L548.55 247.96 L548.80 247.97 L549.05 247.98 L549.30 247.98 L549.55 247.99 L549.80 248.00 L550.05 248.00 L550.30 248.01 L550.55 248.02 L550.80 248.02 L551.05 248.03 L551.30 248.03 L551.55 248.04 L551.80 248.04 L552.05 248.05 L552.30 248.05 L552.55 248.05 L552.80 248.06 L553.05 248.06 L553.30 248.07 L553.55 248.07 L553.80 248.07 L554.05 248.07 L554.30 248.08 L554.55 248.08 L554.80 248.08 L555.05 248.08 L555.30 248.08 L555.55 248.08 L555.80 248.08 L556.05 248.08 L556.30 248.08 L556.55 248.08 L556.80 248.08 L557.05 248.08 L557.30 248.07 L557.55 248.07 L557.80 248.05 L558.05 248.04 L558.30 248.01 L558.55 247.98 L558.80 247.93 L559.05 247.85 L559.30 247.75 L559.55 247.60 L559.80 247.40 L560.05 247.14 L560.30 246.80 L560.55 246.38 L560.80 245.87 L561.05 245.26 L561.30 244.57 L561.55 243.80 L561.80 242.99 L562.05 242.15 L562.30 241.33 L562.55 240.58 L562.80 239.94 L563.05 239.46 L563.30 239.17 L563.55 239.10 L563.80 239.26 L564.05 239.64 L564.30 240.19 L564.55 240.89 L564.80 241.67 L565.05 242.51 L565.30 243.34 L565.55 244.15 L565.80 244.89 L566.05 245.56 L566.30 246.13 L566.55 246.61 L566.80 247.00 L567.05 247.31 L567.30 247.55 L567.55 247.73 L567.80 247.86 L568.05 247.96 L568.30 248.03 L568.55 248.08 L568.80 248.11 L569.05 248.13 L569.30 248.15 L569.55 248.17 L569.80 248.18 L570.05 248.19 L570.30 248.19 L570.55 248.20 L570.80 248.20 L571.05 248.21 L571.30 248.21 L571.55 248.22 L571.80 248.22 L572.05 248.23 L572.30 248.23 L572.55 248.23 L572.80 248.24 L573.05 248.24 L573.30 248.24 L573.55 248.24 L573.80 248.25 L574.05 248.25 L574.30 248.25 L574.55 248.26 L574.80 248.26 L575.05 248.26 L575.30 248.26 L575.55 248.26 L575.80 248.27 L576.05 248.27 L576.30 248.27 L576.55 248.27 L576.80 248.27 L577.05 248.27 L577.30 248.28 L577.55 248.28 L577.80 248.28 L578.05 248.28 L578.30 248.28 L578.55 248.28 L578.80 248.29 L579.05 248.29 L579.30 248.29 L579.55 248.29 L579.80 248.29 L580.05 248.29 L580.30 248.29 L580.55 248.30 L580.80 248.30 L581.05 248.30 L581.30 248.30 L581.55 248.30 L581.80 248.30 L582.05 248.30 L582.30 248.30 L582.55 248.31 L582.80 248.31 L583.05 248.31 L583.30 248.31 L583.55 248.31 L583.80 248.31 L584.05 248.31 L584.30 248.31 L584.55 248.31 L584.80 248.32 L585.05 248.32 L585.30 248.32 L585.55 248.32 L585.80 248.32 L586.05 248.32 L586.30 248.32 L586.55 248.32 L586.80 248.32 L587.05 248.33 L587.30 248.33 L587.55 248.33 L587.80 248.33 L588.05 248.33 L588.30 248.33 L588.55 248.33 L588.80 248.33 L589.05 248.33 L589.30 248.33 L589.55 248.33 L589.80 248.34 L590.05 248.34 L590.30 248.34 L590.55 248.34 L590.80 248.34 L591.05 248.34 L591.30 248.34 L591.55 248.34 L591.80 248.34 L592.05 248.34 L592.30 248.34 L592.55 248.35 L592.80 248.35 L593.05 248.35 L593.30 248.35 L593.55 248.35 L593.80 248.35 L594.05 248.35 L594.30 248.35 L594.55 248.35 L594.80 248.35 L595.05 248.35 L595.30 248.36 L595.55 248.36 L595.80 248.36 L596.05 248.36 L596.30 248.36 L596.55 248.36 L596.80 248.36 L597.05 248.36 L597.30 248.36 L597.55 248.36 L597.80 248.36 L598.05 248.36 L598.30 248.36 L598.55 248.37 L598.80 248.37 L599.05 248.37 L599.30 248.37 L599.55 248.37 L599.80 248.37 L600.05 248.37 L600.30 248.37 L600.55 248.37 L600.80 248.37 L601.05 248.38 L601.30 248.38 L601.55 248.38 L601.80 248.38 L602.05 248.38 L602.30 248.38 L602.55 248.38 L602.80 248.39 L603.05 248.39 L603.30 248.39 L603.55 248.39 L603.80 248.39 L604.05 248.39 L604.30 248.39 L604.55 248.40 L604.80 248.40 L605.05 248.40 L605.30 248.40 L605.55 248.40 L605.80 248.40 L606.05 248.40 L606.30 248.41 L606.55 248.41 L606.80 248.41 L607.05 248.41 L607.30 248.41 L607.55 248.41 L607.80 248.41 L608.05 248.42 L608.30 248.42 L608.55 248.42 L608.80 248.42 L609.05 248.42 L609.30 248.42 L609.55 248.42 L609.80 248.43 L610.05 248.43 L610.30 248.43 L610.55 248.43 L610.80 248.43 L611.05 248.43 L611.30 248.43 L611.55 248.44 L611.80 248.44 L612.05 248.44 L612.30 248.44 L612.55 248.44 L612.80 248.44 L613.05 248.44 L613.30 248.44 L613.55 248.45 L613.80 248.45 L614.05 248.45 L614.30 248.45 L614.55 248.45 L614.80 248.45 L615.05 248.45 L615.30 248.46 L615.55 248.46 L615.80 248.46 L616.05 248.46 L616.30 248.46 L616.55 248.46 L616.80 248.46 L617.05 248.47 L617.30 248.47 L617.55 248.47 L617.80 248.47 L618.05 248.47 L618.30 248.47 L618.55 248.47 L618.80 248.47 L619.05 248.48 L619.30 248.48 L619.55 248.48 L619.80 248.48 L620.05 248.48 L620.30 248.48 L620.55 248.48 L620.80 248.48 L621.05 248.48 L621.30 248.48 L621.55 248.48 L621.80 248.48 L622.05 248.48 L622.30 248.48 L622.55 248.48 L622.80 248.48 L623.05 248.48 L623.30 248.48 L623.55 248.48 L623.80 248.48 L624.05 248.48 L624.30 248.48 L624.55 248.48 L624.80 248.48 L625.05 248.48 L625.30 248.48 L625.55 248.48 L625.80 248.48 L626.05 248.48 L626.30 248.48 L626.55 248.48 L626.80 248.48 L627.05 248.48 L627.30 248.48 L627.55 248.48 L627.80 248.48 L628.05 248.48 L628.30 248.48 L628.55 248.48 L628.80 248.48 L629.05 248.48 L629.30 248.48 L629.55 248.48 L629.80 248.48 L630.05 248.48 L630.30 248.48 L630.55 248.48 L630.80 248.48 L631.05 248.48 L631.30 248.48 L631.55 248.48 L631.80 248.48 L632.05 248.48 L632.30 248.48 L632.55 248.48 L632.80 248.48 L633.05 248.49 L633.30 248.49 L633.55 248.49 L633.80 248.49 L634.05 248.49 L634.30 248.49 L634.55 248.49 L634.80 248.49 L635.05 248.49 L635.30 248.49 L635.55 248.49 L635.80 248.49 L636.05 248.49 L636.30 248.49 L636.55 248.49 L636.80 248.49 L637.05 248.49 L637.30 248.49 L637.55 248.49 L637.80 248.49 L638.05 248.49 L638.30 248.49 L638.55 248.49 L638.80 248.49 L639.05 248.49 L639.30 248.49 L639.55 248.49 L639.80 248.49 L640.05 248.49 L640.30 248.49 L640.55 248.49 L640.80 248.49 L641.05 248.49 L641.30 248.49 L641.55 248.49 L641.80 248.49 L642.05 248.49 L642.30 248.49 L642.55 248.49 L642.80 248.49 L643.05 248.49 L643.30 248.49 L643.55 248.49 L643.80 248.49 L644.05 248.49 L644.30 248.49 L644.55 248.49 L644.80 248.49 L645.05 248.49 L645.30 248.49 L645.55 248.49 L645.80 248.49 L646.05 248.49 L646.30 248.49 L646.55 248.49 L646.80 248.49 L647.05 248.49 L647.30 248.49 L647.55 248.49 L647.80 248.49 L648.05 248.49 L648.30 248.49 L648.55 248.49 L648.80 248.49 L649.05 248.49 L649.30 248.49 L649.55 248.49 L649.80 248.49 L650.05 248.49 L650.30 248.49 L650.55 248.49 L650.80 248.49 L651.05 248.49 L651.30 248.49 L651.55 248.49 L651.80 248.49 L652.05 248.49 L652.30 248.49 L652.55 248.49 L652.80 248.49 L653.05 248.49 L653.30 248.49 L653.55 248.49 L653.80 248.49 L654.05 248.49 L654.30 248.49 L654.55 248.49 L654.80 248.49 L655.05 248.49 L655.30 248.49 L655.55 248.49 L655.80 248.49 L656.05 248.49 L656.30 248.49 L656.55 248.49 L656.80 248.49 L657.05 248.49 L657.30 248.49 L657.55 248.49 L657.80 248.49 L658.05 248.49 L658.30 248.49 L658.55 248.49 L658.80 248.49 L659.05 248.49 L659.30 248.49 L659.55 248.49 L659.80 248.49 L660.05 248.49 L660.30 248.49 L660.55 248.49 L660.80 248.49 L661.05 248.49 L661.30 248.49 L661.55 248.49 L661.80 248.49 L662.05 248.49 L662.30 248.49 L662.55 248.49 L662.80 248.49 L663.05 248.49 L663.30 248.49 L663.55 248.49 L663.80 248.49 L664.05 248.49 L664.30 248.49 L664.55 248.49 L664.80 248.49 L665.05 248.49 L665.30 248.49 L665.55 248.49 L665.80 248.49 L666.05 248.49 L666.30 248.49 L666.55 248.49 L666.80 248.49 L667.05 248.49 L667.30 248.49 L667.55 248.49 L667.80 248.49" fill="none" stroke="#3fa3f2" stroke-width="1.05" stroke-linejoin="round"/>
<path d="M10.80 517.48 L11.05 517.48 L11.30 517.48 L11.55 517.47 L11.80 517.47 L12.05 517.47 L12.30 517.47 L12.55 517.47 L12.80 517.47 L13.05 517.47 L13.30 517.47 L13.55 517.47 L13.80 517.46 L14.05 517.46 L14.30 517.46 L14.55 517.46 L14.80 517.46 L15.05 517.46 L15.30 517.46 L15.55 517.46 L15.80 517.46 L16.05 517.45 L16.30 517.45 L16.55 517.45 L16.80 517.45 L17.05 517.45 L17.30 517.45 L17.55 517.45 L17.80 517.45 L18.05 517.45 L18.30 517.44 L18.55 517.44 L18.80 517.44 L19.05 517.44 L19.30 517.44 L19.55 517.44 L19.80 517.44 L20.05 517.44 L20.30 517.43 L20.55 517.43 L20.80 517.43 L21.05 517.43 L21.30 517.43 L21.55 517.43 L21.80 517.43 L22.05 517.42 L22.30 517.42 L22.55 517.42 L22.80 517.42 L23.05 517.42 L23.30 517.42 L23.55 517.42 L23.80 517.42 L24.05 517.41 L24.30 517.41 L24.55 517.41 L24.80 517.41 L25.05 517.41 L25.30 517.41 L25.55 517.40 L25.80 517.40 L26.05 517.40 L26.30 517.40 L26.55 517.40 L26.80 517.40 L27.05 517.39 L27.30 517.39 L27.55 517.39 L27.80 517.39 L28.05 517.39 L28.30 517.38 L28.55 517.38 L28.80 517.38 L29.05 517.38 L29.30 517.38 L29.55 517.37 L29.80 517.37 L30.05 517.37 L30.30 517.37 L30.55 517.37 L30.80 517.36 L31.05 517.36 L31.30 517.36 L31.55 517.35 L31.80 517.35 L32.05 517.35 L32.30 517.35 L32.55 517.34 L32.80 517.34 L33.05 517.34 L33.30 517.33 L33.55 517.33 L33.80 517.33 L34.05 517.32 L34.30 517.32 L34.55 517.31 L34.80 517.31 L35.05 517.30 L35.30 517.30 L35.55 517.29 L35.80 517.29 L36.05 517.28 L36.30 517.28 L36.55 517.27 L36.80 517.26 L37.05 517.26 L37.30 517.25 L37.55 517.24 L37.80 517.23 L38.05 517.22 L38.30 517.21 L38.55 517.20 L38.80 517.19 L39.05 517.18 L39.30 517.16 L39.55 517.15 L39.80 517.13 L40.05 517.11 L40.30 517.08 L40.55 517.05 L40.80 517.01 L41.05 516.96 L41.30 516.89 L41.55 516.79 L41.80 516.65 L42.05 516.45 L42.30 516.17 L42.55 515.77 L42.80 515.21 L43.05 514.45 L43.30 513.44 L43.55 512.12 L43.80 510.47 L44.05 508.44 L44.30 506.03 L44.55 503.26 L44.80 500.19 L45.05 496.90 L45.30 493.54 L45.55 490.27 L45.80 487.28 L46.05 484.77 L46.30 482.94 L46.55 481.92 L46.80 481.83 L47.05 482.65 L47.30 484.33 L47.55 486.71 L47.80 489.61 L48.05 492.83 L48.30 496.18 L48.55 499.49 L48.80 502.60 L49.05 505.43 L49.30 507.91 L49.55 510.01 L49.80 511.73 L50.05 513.10 L50.30 514.16 L50.55 514.96 L50.80 515.55 L51.05 515.97 L51.30 516.27 L51.55 516.47 L51.80 516.61 L52.05 516.71 L52.30 516.78 L52.55 516.82 L52.80 516.86 L53.05 516.88 L53.30 516.90 L53.55 516.92 L53.80 516.93 L54.05 516.94 L54.30 516.95 L54.55 516.95 L54.80 516.96 L55.05 516.96 L55.30 516.97 L55.55 516.97 L55.80 516.97 L56.05 516.97 L56.30 516.97 L56.55 516.97 L56.80 516.97 L57.05 516.97 L57.30 516.97 L57.55 516.97 L57.80 516.97 L58.05 516.96 L58.30 516.96 L58.55 516.96 L58.80 516.95 L59.05 516.95 L59.30 516.94 L59.55 516.94 L59.80 516.93 L60.05 516.93 L60.30 516.92 L60.55 516.91 L60.80 516.91 L61.05 516.90 L61.30 516.89 L61.55 516.88 L61.80 516.87 L62.05 516.86 L62.30 516.85 L62.55 516.84 L62.80 516.83 L63.05 516.81 L63.30 516.80 L63.55 516.78 L63.80 516.77 L64.05 516.75 L64.30 516.73 L64.55 516.71 L64.80 516.69 L65.05 516.67 L65.30 516.64 L65.55 516.62 L65.80 516.59 L66.05 516.56 L66.30 516.52 L66.55 516.48 L66.80 516.43 L67.05 516.37 L67.30 516.29 L67.55 516.19 L67.80 516.06 L68.05 515.88 L68.30 515.63 L68.55 515.29 L68.80 514.82 L69.05 514.18 L69.30 513.32 L69.55 512.17 L69.80 510.67 L70.05 508.75 L70.30 506.33 L70.55 503.36 L70.80 499.78 L71.05 495.58 L71.30 490.76 L71.55 485.39 L71.80 479.56 L72.05 473.42 L72.30 467.18 L72.55 461.08 L72.80 455.38 L73.05 450.38 L73.30 446.36 L73.55 443.57 L73.80 442.20 L74.05 442.35 L74.30 444.01 L74.55 447.06 L74.80 451.29 L75.05 456.45 L75.30 462.25 L75.55 468.39 L75.80 474.63 L76.05 480.71 L76.30 486.45 L76.55 491.71 L76.80 496.40 L77.05 500.48 L77.30 503.93 L77.55 506.78 L77.80 509.09 L78.05 510.92 L78.30 512.33 L78.55 513.41 L78.80 514.22 L79.05 514.82 L79.30 515.25 L79.55 515.57 L79.80 515.79 L80.05 515.96 L80.30 516.08 L80.55 516.17 L80.80 516.24 L81.05 516.29 L81.30 516.33 L81.55 516.37 L81.80 516.40 L82.05 516.43 L82.30 516.45 L82.55 516.47 L82.80 516.49 L83.05 516.51 L83.30 516.53 L83.55 516.54 L83.80 516.55 L84.05 516.57 L84.30 516.58 L84.55 516.59 L84.80 516.60 L85.05 516.61 L85.30 516.61 L85.55 516.62 L85.80 516.63 L86.05 516.63 L86.30 516.64 L86.55 516.64 L86.80 516.65 L87.05 516.65 L87.30 516.66 L87.55 516.66 L87.80 516.66 L88.05 516.67 L88.30 516.67 L88.55 516.67 L88.80 516.67 L89.05 516.68 L89.30 516.68 L89.55 516.68 L89.80 516.68 L90.05 516.68 L90.30 516.68 L90.55 516.68 L90.80 516.68 L91.05 516.68 L91.30 516.68 L91.55 516.68 L91.80 516.68 L92.05 516.68 L92.30 516.68 L92.55 516.68 L92.80 516.68 L93.05 516.68 L93.30 516.68 L93.55 516.68 L93.80 516.68 L94.05 516.68 L94.30 516.68 L94.55 516.68 L94.80 516.68 L95.05 516.67 L95.30 516.67 L95.55 516.67 L95.80 516.67 L96.05 516.67 L96.30 516.67 L96.55 516.67 L96.80 516.66 L97.05 516.66 L97.30 516.66 L97.55 516.66 L97.80 516.66 L98.05 516.66 L98.30 516.65 L98.55 516.65 L98.80 516.65 L99.05 516.65 L99.30 516.65 L99.55 516.65 L99.80 516.64 L100.05 516.64 L100.30 516.65 L100.55 516.65 L100.80 516.65 L101.05 516.65 L101.30 516.66 L101.55 516.66 L101.80 516.66 L102.05 516.67 L102.30 516.67 L102.55 516.67 L102.80 516.67 L103.05 516.68 L103.30 516.68 L103.55 516.68 L103.80 516.68 L104.05 516.69 L104.30 516.69 L104.55 516.69 L104.80 516.69 L105.05 516.70 L105.30 516.70 L105.55 516.70 L105.80 516.70 L106.05 516.71 L106.30 516.71 L106.55 516.71 L106.80 516.71 L107.05 516.72 L107.30 516.72 L107.55 516.72 L107.80 516.72 L108.05 516.73 L108.30 516.73 L108.55 516.73 L108.80 516.73 L109.05 516.74 L109.30 516.74 L109.55 516.74 L109.80 516.74 L110.05 516.75 L110.30 516.75 L110.55 516.75 L110.80 516.75 L111.05 516.76 L111.30 516.76 L111.55 516.76 L111.80 516.76 L112.05 516.76 L112.30 516.77 L112.55 516.77 L112.80 516.77 L113.05 516.77 L113.30 516.78 L113.55 516.78 L113.80 516.78 L114.05 516.78 L114.30 516.79 L114.55 516.79 L114.80 516.79 L115.05 516.79 L115.30 516.79 L115.55 516.80 L115.80 516.80 L116.05 516.80 L116.30 516.80 L116.55 516.81 L116.80 516.81 L117.05 516.81 L117.30 516.81 L117.55 516.81 L117.80 516.82 L118.05 516.82 L118.30 516.82 L118.55 516.82 L118.80 516.82 L119.05 516.83 L119.30 516.83 L119.55 516.83 L119.80 516.83 L120.05 516.84 L120.30 516.84 L120.55 516.84 L120.80 516.84 L121.05 516.84 L121.30 516.85 L121.55 516.85 L121.80 516.85 L122.05 516.85 L122.30 516.85 L122.55 516.86 L122.80 516.86 L123.05 516.86 L123.30 516.86 L123.55 516.87 L123.80 516.87 L124.05 516.87 L124.30 516.87 L124.55 516.87 L124.80 516.88 L125.05 516.88 L125.30 516.88 L125.55 516.88 L125.80 516.88 L126.05 516.89 L126.30 516.89 L126.55 516.89 L126.80 516.89 L127.05 516.89 L127.30 516.90 L127.55 516.90 L127.80 516.90 L128.05 516.90 L128.30 516.91 L128.55 516.91 L128.80 516.91 L129.05 516.91 L129.30 516.91 L129.55 516.92 L129.80 516.92 L130.05 516.92 L130.30 516.92 L130.55 516.92 L130.80 516.93 L131.05 516.93 L131.30 516.93 L131.55 516.93 L131.80 516.93 L132.05 516.94 L132.30 516.94 L132.55 516.94 L132.80 516.94 L133.05 516.94 L133.30 516.95 L133.55 516.95 L133.80 516.95 L134.05 516.95 L134.30 516.95 L134.55 516.96 L134.80 516.96 L135.05 516.96 L135.30 516.96 L135.55 516.96 L135.80 516.97 L136.05 516.97 L136.30 516.97 L136.55 516.97 L136.80 516.97 L137.05 516.98 L137.30 516.98 L137.55 516.98 L137.80 516.98 L138.05 516.98 L138.30 516.99 L138.55 516.99 L138.80 516.99 L139.05 516.99 L139.30 516.99 L139.55 517.00 L139.80 517.00 L140.05 517.00 L140.30 517.00 L140.55 517.00 L140.80 517.01 L141.05 517.01 L141.30 517.01 L141.55 517.01 L141.80 517.01 L142.05 517.02 L142.30 517.02 L142.55 517.02 L142.80 517.02 L143.05 517.02 L143.30 517.03 L143.55 517.03 L143.80 517.03 L144.05 517.03 L144.30 517.03 L144.55 517.04 L144.80 517.04 L145.05 517.04 L145.30 517.04 L145.55 517.04 L145.80 517.05 L146.05 517.05 L146.30 517.05 L146.55 517.05 L146.80 517.05 L147.05 517.06 L147.30 517.06 L147.55 517.06 L147.80 517.06 L148.05 517.06 L148.30 517.07 L148.55 517.07 L148.80 517.07 L149.05 517.07 L149.30 517.07 L149.55 517.08 L149.80 517.08 L150.05 517.08 L150.30 517.08 L150.55 517.08 L150.80 517.07 L151.05 517.07 L151.30 517.07 L151.55 517.07 L151.80 517.07 L152.05 517.07 L152.30 517.07 L152.55 517.06 L152.80 517.06 L153.05 517.06 L153.30 517.06 L153.55 517.06 L153.80 517.06 L154.05 517.05 L154.30 517.05 L154.55 517.05 L154.80 517.05 L155.05 517.05 L155.30 517.05 L155.55 517.05 L155.80 517.04 L156.05 517.04 L156.30 517.04 L156.55 517.04 L156.80 517.04 L157.05 517.04 L157.30 517.03 L157.55 517.03 L157.80 517.03 L158.05 517.03 L158.30 517.03 L158.55 517.03 L158.80 517.02 L159.05 517.02 L159.30 517.02 L159.55 517.02 L159.80 517.02 L160.05 517.02 L160.30 517.01 L160.55 517.01 L160.80 517.01 L161.05 517.01 L161.30 517.01 L161.55 517.01 L161.80 517.00 L162.05 517.00 L162.30 517.00 L162.55 517.00 L162.80 517.00 L163.05 517.00 L163.30 516.99 L163.55 516.99 L163.80 516.99 L164.05 516.99 L164.30 516.99 L164.55 516.98 L164.80 516.98 L165.05 516.98 L165.30 516.98 L165.55 516.98 L165.80 516.98 L166.05 516.97 L166.30 516.97 L166.55 516.97 L166.80 516.97 L167.05 516.97 L167.30 516.96 L167.55 516.96 L167.80 516.96 L168.05 516.96 L168.30 516.95 L168.55 516.95 L168.80 516.95 L169.05 516.95 L169.30 516.95 L169.55 516.94 L169.80 516.94 L170.05 516.94 L170.30 516.94 L170.55 516.93 L170.80 516.93 L171.05 516.93 L171.30 516.93 L171.55 516.92 L171.80 516.92 L172.05 516.92 L172.30 516.92 L172.55 516.91 L172.80 516.91 L173.05 516.91 L173.30 516.90 L173.55 516.90 L173.80 516.90 L174.05 516.89 L174.30 516.89 L174.55 516.89 L174.80 516.88 L175.05 516.88 L175.30 516.87 L175.55 516.87 L175.80 516.86 L176.05 516.86 L176.30 516.85 L176.55 516.85 L176.80 516.84 L177.05 516.84 L177.30 516.83 L177.55 516.82 L177.80 516.81 L178.05 516.81 L178.30 516.80 L178.55 516.78 L178.80 516.77 L179.05 516.76 L179.30 516.73 L179.55 516.71 L179.80 516.67 L180.05 516.62 L180.30 516.56 L180.55 516.47 L180.80 516.35 L181.05 516.18 L181.30 515.97 L181.55 515.68 L181.80 515.32 L182.05 514.86 L182.30 514.30 L182.55 513.62 L182.80 512.82 L183.05 511.89 L183.30 510.86 L183.55 509.73 L183.80 508.53 L184.05 507.29 L184.30 506.07 L184.55 504.90 L184.80 503.86 L185.05 502.98 L185.30 502.33 L185.55 501.95 L185.80 501.86 L186.05 502.06 L186.30 502.55 L186.55 503.29 L186.80 504.23 L187.05 505.33 L187.30 506.52 L187.55 507.74 L187.80 508.96 L188.05 510.13 L188.30 511.22 L188.55 512.21 L188.80 513.08 L189.05 513.82 L189.30 514.45 L189.55 514.96 L189.80 515.37 L190.05 515.69 L190.30 515.94 L190.55 516.12 L190.80 516.26 L191.05 516.35 L191.30 516.41 L191.55 516.45 L191.80 516.47 L192.05 516.46 L192.30 516.43 L192.55 516.38 L192.80 516.30 L193.05 516.18 L193.30 516.02 L193.55 515.79 L193.80 515.49 L194.05 515.11 L194.30 514.64 L194.55 514.06 L194.80 513.38 L195.05 512.59 L195.30 511.70 L195.55 510.74 L195.80 509.74 L196.05 508.72 L196.30 507.75 L196.55 506.86 L196.80 506.11 L197.05 505.55 L197.30 505.22 L197.55 505.14 L197.80 505.32 L198.05 505.75 L198.30 506.39 L198.55 507.21 L198.80 508.14 L199.05 509.13 L199.30 510.15 L199.55 511.14 L199.80 512.08 L200.05 512.93 L200.30 513.68 L200.55 514.32 L200.80 514.86 L201.05 515.30 L201.30 515.65 L201.55 515.92 L201.80 516.12 L202.05 516.28 L202.30 516.39 L202.55 516.47 L202.80 516.53 L203.05 516.57 L203.30 516.60 L203.55 516.62 L203.80 516.63 L204.05 516.64 L204.30 516.65 L204.55 516.66 L204.80 516.66 L205.05 516.67 L205.30 516.67 L205.55 516.67 L205.80 516.68 L206.05 516.68 L206.30 516.68 L206.55 516.68 L206.80 516.68 L207.05 516.68 L207.30 516.69 L207.55 516.69 L207.80 516.69 L208.05 516.69 L208.30 516.69 L208.55 516.69 L208.80 516.69 L209.05 516.69 L209.30 516.69 L209.55 516.69 L209.80 516.69 L210.05 516.69 L210.30 516.69 L210.55 516.69 L210.80 516.69 L211.05 516.69 L211.30 516.68 L211.55 516.68 L211.80 516.68 L212.05 516.68 L212.30 516.68 L212.55 516.68 L212.80 516.68 L213.05 516.68 L213.30 516.68 L213.55 516.68 L213.80 516.68 L214.05 516.67 L214.30 516.67 L214.55 516.67 L214.80 516.67 L215.05 516.67 L215.30 516.67 L215.55 516.67 L215.80 516.66 L216.05 516.66 L216.30 516.66 L216.55 516.66 L216.80 516.66 L217.05 516.66 L217.30 516.66 L217.55 516.65 L217.80 516.65 L218.05 516.65 L218.30 516.65 L218.55 516.65 L218.80 516.64 L219.05 516.64 L219.30 516.64 L219.55 516.64 L219.80 516.64 L220.05 516.64 L220.30 516.64 L220.55 516.64 L220.80 516.64 L221.05 516.64 L221.30 516.64 L221.55 516.64 L221.80 516.64 L222.05 516.64 L222.30 516.63 L222.55 516.63 L222.80 516.63 L223.05 516.63 L223.30 516.63 L223.55 516.63 L223.80 516.63 L224.05 516.63 L224.30 516.63 L224.55 516.63 L224.80 516.63 L225.05 516.63 L225.30 516.63 L225.55 516.63 L225.80 516.62 L226.05 516.62 L226.30 516.62 L226.55 516.62 L226.80 516.62 L227.05 516.62 L227.30 516.62 L227.55 516.61 L227.80 516.61 L228.05 516.61 L228.30 516.61 L228.55 516.60 L228.80 516.60 L229.05 516.60 L229.30 516.60 L229.55 516.59 L229.80 516.59 L230.05 516.58 L230.30 516.58 L230.55 516.58 L230.80 516.57 L231.05 516.57 L231.30 516.56 L231.55 516.55 L231.80 516.55 L232.05 516.54 L232.30 516.53 L232.55 516.52 L232.80 516.51 L233.05 516.50 L233.30 516.49 L233.55 516.48 L233.80 516.46 L234.05 516.45 L234.30 516.42 L234.55 516.40 L234.80 516.36 L235.05 516.31 L235.30 516.25 L235.55 516.16 L235.80 516.04 L236.05 515.87 L236.30 515.65 L236.55 515.34 L236.80 514.94 L237.05 514.41 L237.30 513.73 L237.55 512.88 L237.80 511.82 L238.05 510.54 L238.30 509.02 L238.55 507.27 L238.80 505.28 L239.05 503.10 L239.30 500.77 L239.55 498.35 L239.80 495.92 L240.05 493.58 L240.30 491.43 L240.55 489.57 L240.80 488.12 L241.05 487.16 L241.30 486.75 L241.55 486.92 L241.80 487.67 L242.05 488.93 L242.30 490.64 L242.55 492.68 L242.80 494.96 L243.05 497.37 L243.30 499.80 L243.55 502.18 L243.80 504.42 L244.05 506.49 L244.30 508.33 L244.55 509.94 L244.80 511.32 L245.05 512.46 L245.30 513.39 L245.55 514.14 L245.80 514.72 L246.05 515.17 L246.30 515.51 L246.55 515.76 L246.80 515.94 L247.05 516.08 L247.30 516.18 L247.55 516.25 L247.80 516.30 L248.05 516.33 L248.30 516.36 L248.55 516.38 L248.80 516.39 L249.05 516.41 L249.30 516.41 L249.55 516.42 L249.80 516.43 L250.05 516.43 L250.30 516.43 L250.55 516.43 L250.80 516.43 L251.05 516.43 L251.30 516.42 L251.55 516.42 L251.80 516.41 L252.05 516.40 L252.30 516.39 L252.55 516.37 L252.80 516.35 L253.05 516.32 L253.30 516.27 L253.55 516.22 L253.80 516.13 L254.05 516.02 L254.30 515.86 L254.55 515.65 L254.80 515.36 L255.05 514.97 L255.30 514.45 L255.55 513.78 L255.80 512.92 L256.05 511.86 L256.30 510.56 L256.55 509.00 L256.80 507.19 L257.05 505.12 L257.30 502.82 L257.55 500.32 L257.80 497.70 L258.05 495.04 L258.30 492.42 L258.55 489.97 L258.80 487.80 L259.05 486.02 L259.30 484.74 L259.55 484.05 L259.80 483.99 L260.05 484.56 L260.30 485.73 L260.55 487.42 L260.80 489.52 L261.05 491.93 L261.30 494.53 L261.55 497.19 L261.80 499.83 L262.05 502.36 L262.30 504.71 L262.55 506.83 L262.80 508.70 L263.05 510.31 L263.30 511.67 L263.55 512.78 L263.80 513.68 L264.05 514.39 L264.30 514.94 L264.55 515.36 L264.80 515.67 L265.05 515.90 L265.30 516.07 L265.55 516.20 L265.80 516.29 L266.05 516.36 L266.30 516.41 L266.55 516.45 L266.80 516.48 L267.05 516.50 L267.30 516.52 L267.55 516.54 L267.80 516.55 L268.05 516.57 L268.30 516.58 L268.55 516.59 L268.80 516.60 L269.05 516.61 L269.30 516.62 L269.55 516.63 L269.80 516.63 L270.05 516.64 L270.30 516.65 L270.55 516.65 L270.80 516.66 L271.05 516.67 L271.30 516.67 L271.55 516.68 L271.80 516.68 L272.05 516.69 L272.30 516.69 L272.55 516.69 L272.80 516.70 L273.05 516.70 L273.30 516.70 L273.55 516.71 L273.80 516.71 L274.05 516.71 L274.30 516.72 L274.55 516.72 L274.80 516.72 L275.05 516.72 L275.30 516.72 L275.55 516.73 L275.80 516.73 L276.05 516.73 L276.30 516.73 L276.55 516.73 L276.80 516.74 L277.05 516.74 L277.30 516.74 L277.55 516.74 L277.80 516.74 L278.05 516.74 L278.30 516.74 L278.55 516.74 L278.80 516.75 L279.05 516.75 L279.30 516.75 L279.55 516.75 L279.80 516.75 L280.05 516.75 L280.30 516.75 L280.55 516.75 L280.80 516.75 L281.05 516.75 L281.30 516.75 L281.55 516.75 L281.80 516.75 L282.05 516.75 L282.30 516.75 L282.55 516.75 L282.80 516.75 L283.05 516.75 L283.30 516.75 L283.55 516.75 L283.80 516.75 L284.05 516.75 L284.30 516.74 L284.55 516.74 L284.80 516.74 L285.05 516.74 L285.30 516.74 L285.55 516.74 L285.80 516.73 L286.05 516.73 L286.30 516.73 L286.55 516.73 L286.80 516.72 L287.05 516.72 L287.30 516.72 L287.55 516.72 L287.80 516.71 L288.05 516.71 L288.30 516.70 L288.55 516.70 L288.80 516.69 L289.05 516.69 L289.30 516.68 L289.55 516.67 L289.80 516.67 L290.05 516.66 L290.30 516.65 L290.55 516.64 L290.80 516.63 L291.05 516.62 L291.30 516.61 L291.55 516.59 L291.80 516.58 L292.05 516.56 L292.30 516.54 L292.55 516.52 L292.80 516.49 L293.05 516.45 L293.30 516.40 L293.55 516.34 L293.80 516.25 L294.05 516.13 L294.30 515.96 L294.55 515.72 L294.80 515.39 L295.05 514.94 L295.30 514.34 L295.55 513.54 L295.80 512.51 L296.05 511.19 L296.30 509.56 L296.55 507.59 L296.80 505.25 L297.05 502.56 L297.30 499.55 L297.55 496.27 L297.80 492.81 L298.05 489.30 L298.30 485.87 L298.55 482.69 L298.80 479.93 L299.05 477.75 L299.30 476.30 L299.55 475.69 L299.80 475.96 L300.05 477.08 L300.30 478.98 L300.55 481.53 L300.80 484.57 L301.05 487.92 L301.30 491.42 L301.55 494.92 L301.80 498.28 L302.05 501.41 L302.30 504.24 L302.55 506.72 L302.80 508.84 L303.05 510.61 L303.30 512.04 L303.55 513.19 L303.80 514.08 L304.05 514.76 L304.30 515.26 L304.55 515.64 L304.80 515.91 L305.05 516.11 L305.30 516.25 L305.55 516.35 L305.80 516.43 L306.05 516.48 L306.30 516.53 L306.55 516.56 L306.80 516.59 L307.05 516.61 L307.30 516.63 L307.55 516.65 L307.80 516.66 L308.05 516.68 L308.30 516.69 L308.55 516.70 L308.80 516.72 L309.05 516.73 L309.30 516.74 L309.55 516.75 L309.80 516.76 L310.05 516.76 L310.30 516.77 L310.55 516.78 L310.80 516.79 L311.05 516.79 L311.30 516.80 L311.55 516.80 L311.80 516.81 L312.05 516.82 L312.30 516.82 L312.55 516.83 L312.80 516.83 L313.05 516.83 L313.30 516.84 L313.55 516.84 L313.80 516.85 L314.05 516.85 L314.30 516.85 L314.55 516.86 L314.80 516.86 L315.05 516.87 L315.30 516.87 L315.55 516.87 L315.80 516.87 L316.05 516.88 L316.30 516.88 L316.55 516.88 L316.80 516.89 L317.05 516.89 L317.30 516.89 L317.55 516.89 L317.80 516.90 L318.05 516.90 L318.30 516.90 L318.55 516.90 L318.80 516.91 L319.05 516.91 L319.30 516.91 L319.55 516.91 L319.80 516.91 L320.05 516.92 L320.30 516.92 L320.55 516.92 L320.80 516.92 L321.05 516.92 L321.30 516.92 L321.55 516.93 L321.80 516.93 L322.05 516.93 L322.30 516.93 L322.55 516.93 L322.80 516.94 L323.05 516.94 L323.30 516.94 L323.55 516.94 L323.80 516.94 L324.05 516.94 L324.30 516.94 L324.55 516.95 L324.80 516.95 L325.05 516.95 L325.30 516.95 L325.55 516.95 L325.80 516.95 L326.05 516.96 L326.30 516.96 L326.55 516.96 L326.80 516.96 L327.05 516.96 L327.30 516.96 L327.55 516.96 L327.80 516.96 L328.05 516.97 L328.30 516.97 L328.55 516.97 L328.80 516.97 L329.05 516.97 L329.30 516.97 L329.55 516.97 L329.80 516.98 L330.05 516.98 L330.30 516.98 L330.55 516.98 L330.80 516.98 L331.05 516.98 L331.30 516.98 L331.55 516.98 L331.80 516.99 L332.05 516.99 L332.30 516.99 L332.55 516.99 L332.80 516.99 L333.05 516.99 L333.30 516.99 L333.55 516.99 L333.80 516.99 L334.05 517.00 L334.30 517.00 L334.55 517.00 L334.80 517.00 L335.05 517.00 L335.30 517.00 L335.55 517.00 L335.80 517.00 L336.05 517.00 L336.30 517.01 L336.55 517.01 L336.80 517.01 L337.05 517.01 L337.30 517.01 L337.55 517.01 L337.80 517.01 L338.05 517.01 L338.30 517.01 L338.55 517.02 L338.80 517.02 L339.05 517.02 L339.30 517.02 L339.55 517.02 L339.80 517.02 L340.05 517.02 L340.30 517.02 L340.55 517.02 L340.80 517.02 L341.05 517.03 L341.30 517.03 L341.55 517.03 L341.80 517.03 L342.05 517.03 L342.30 517.03 L342.55 517.03 L342.80 517.03 L343.05 517.03 L343.30 517.03 L343.55 517.04 L343.80 517.04 L344.05 517.04 L344.30 517.04 L344.55 517.04 L344.80 517.04 L345.05 517.04 L345.30 517.04 L345.55 517.04 L345.80 517.04 L346.05 517.05 L346.30 517.05 L346.55 517.05 L346.80 517.05 L347.05 517.05 L347.30 517.05 L347.55 517.05 L347.80 517.05 L348.05 517.05 L348.30 517.05 L348.55 517.05 L348.80 517.06 L349.05 517.06 L349.30 517.06 L349.55 517.06 L349.80 517.06 L350.05 517.06 L350.30 517.06 L350.55 517.06 L350.80 517.06 L351.05 517.06 L351.30 517.06 L351.55 517.07 L351.80 517.07 L352.05 517.07 L352.30 517.07 L352.55 517.07 L352.80 517.07 L353.05 517.07 L353.30 517.07 L353.55 517.07 L353.80 517.07 L354.05 517.07 L354.30 517.08 L354.55 517.08 L354.80 517.08 L355.05 517.08 L355.30 517.08 L355.55 517.08 L355.80 517.08 L356.05 517.08 L356.30 517.08 L356.55 517.08 L356.80 517.08 L357.05 517.08 L357.30 517.09 L357.55 517.09 L357.80 517.09 L358.05 517.09 L358.30 517.09 L358.55 517.09 L358.80 517.09 L359.05 517.09 L359.30 517.09 L359.55 517.09 L359.80 517.09 L360.05 517.09 L360.30 517.09 L360.55 517.10 L360.80 517.10 L361.05 517.10 L361.30 517.10 L361.55 517.10 L361.80 517.10 L362.05 517.10 L362.30 517.10 L362.55 517.10 L362.80 517.10 L363.05 517.10 L363.30 517.10 L363.55 517.10 L363.80 517.11 L364.05 517.11 L364.30 517.11 L364.55 517.11 L364.80 517.11 L365.05 517.11 L365.30 517.11 L365.55 517.11 L365.80 517.11 L366.05 517.11 L366.30 517.11 L366.55 517.11 L366.80 517.11 L367.05 517.11 L367.30 517.12 L367.55 517.12 L367.80 517.12 L368.05 517.12 L368.30 517.12 L368.55 517.12 L368.80 517.12 L369.05 517.12 L369.30 517.12 L369.55 517.12 L369.80 517.12 L370.05 517.12 L370.30 517.12 L370.55 517.12 L370.80 517.12 L371.05 517.12 L371.30 517.12 L371.55 517.13 L371.80 517.13 L372.05 517.13 L372.30 517.13 L372.55 517.13 L372.80 517.13 L373.05 517.13 L373.30 517.13 L373.55 517.13 L373.80 517.13 L374.05 517.13 L374.30 517.13 L374.55 517.13 L374.80 517.13 L375.05 517.13 L375.30 517.13 L375.55 517.13 L375.80 517.13 L376.05 517.13 L376.30 517.13 L376.55 517.13 L376.80 517.13 L377.05 517.13 L377.30 517.14 L377.55 517.14 L377.80 517.14 L378.05 517.14 L378.30 517.14 L378.55 517.14 L378.80 517.14 L379.05 517.14 L379.30 517.14 L379.55 517.14 L379.80 517.14 L380.05 517.14 L380.30 517.14 L380.55 517.14 L380.80 517.14 L381.05 517.14 L381.30 517.14 L381.55 517.14 L381.80 517.14 L382.05 517.14 L382.30 517.14 L382.55 517.14 L382.80 517.14 L383.05 517.14 L383.30 517.14 L383.55 517.14 L383.80 517.14 L384.05 517.14 L384.30 517.14 L384.55 517.14 L384.80 517.14 L385.05 517.14 L385.30 517.14 L385.55 517.14 L385.80 517.14 L386.05 517.14 L386.30 517.14 L386.55 517.14 L386.80 517.14 L387.05 517.13 L387.30 517.13 L387.55 517.13 L387.80 517.13 L388.05 517.13 L388.30 517.13 L388.55 517.13 L388.80 517.13 L389.05 517.13 L389.30 517.13 L389.55 517.13 L389.80 517.13 L390.05 517.13 L390.30 517.13 L390.55 517.12 L390.80 517.12 L391.05 517.12 L391.30 517.12 L391.55 517.12 L391.80 517.12 L392.05 517.12 L392.30 517.12 L392.55 517.11 L392.80 517.11 L393.05 517.11 L393.30 517.11 L393.55 517.11 L393.80 517.11 L394.05 517.10 L394.30 517.10 L394.55 517.10 L394.80 517.10 L395.05 517.10 L395.30 517.09 L395.55 517.09 L395.80 517.09 L396.05 517.08 L396.30 517.08 L396.55 517.08 L396.80 517.07 L397.05 517.07 L397.30 517.07 L397.55 517.06 L397.80 517.06 L398.05 517.05 L398.30 517.05 L398.55 517.05 L398.80 517.04 L399.05 517.03 L399.30 517.03 L399.55 517.02 L399.80 517.02 L400.05 517.01 L400.30 517.00 L400.55 516.99 L400.80 516.98 L401.05 516.97 L401.30 516.96 L401.55 516.95 L401.80 516.94 L402.05 516.92 L402.30 516.91 L402.55 516.90 L402.80 516.88 L403.05 516.87 L403.30 516.85 L403.55 516.83 L403.80 516.81 L404.05 516.79 L404.30 516.77 L404.55 516.75 L404.80 516.73 L405.05 516.71 L405.30 516.68 L405.55 516.65 L405.80 516.63 L406.05 516.60 L406.30 516.56 L406.55 516.53 L406.80 516.50 L407.05 516.46 L407.30 516.42 L407.55 516.38 L407.80 516.34 L408.05 516.30 L408.30 516.25 L408.55 516.21 L408.80 516.16 L409.05 516.11 L409.30 516.05 L409.55 516.00 L409.80 515.94 L410.05 515.88 L410.30 515.82 L410.55 515.75 L410.80 515.68 L411.05 515.61 L411.30 515.53 L411.55 515.45 L411.80 515.36 L412.05 515.26 L412.30 515.14 L412.55 515.00 L412.80 514.83 L413.05 514.62 L413.30 514.36 L413.55 514.03 L413.80 513.61 L414.05 513.08 L414.30 512.42 L414.55 511.60 L414.80 510.62 L415.05 509.47 L415.30 508.12 L415.55 506.60 L415.80 504.90 L416.05 503.07 L416.30 501.14 L416.55 499.13 L416.80 497.11 L417.05 495.11 L417.30 493.18 L417.55 491.33 L417.80 489.57 L418.05 487.91 L418.30 486.30 L418.55 484.71 L418.80 483.11 L419.05 481.48 L419.30 479.83 L419.55 478.20 L419.80 476.67 L420.05 475.34 L420.30 474.34 L420.55 473.79 L420.80 473.82 L421.05 474.49 L421.30 475.84 L421.55 477.83 L421.80 480.39 L422.05 483.38 L422.30 486.67 L422.55 490.11 L422.80 493.55 L423.05 496.88 L423.30 500.00 L423.55 502.83 L423.80 505.32 L424.05 507.47 L424.30 509.28 L424.55 510.75 L424.80 511.94 L425.05 512.88 L425.30 513.60 L425.55 514.16 L425.80 514.58 L426.05 514.90 L426.30 515.14 L426.55 515.33 L426.80 515.48 L427.05 515.60 L427.30 515.70 L427.55 515.79 L427.80 515.87 L428.05 515.94 L428.30 516.00 L428.55 516.06 L428.80 516.12 L429.05 516.17 L429.30 516.22 L429.55 516.27 L429.80 516.31 L430.05 516.35 L430.30 516.39 L430.55 516.43 L430.80 516.47 L431.05 516.50 L431.30 516.53 L431.55 516.56 L431.80 516.59 L432.05 516.62 L432.30 516.64 L432.55 516.67 L432.80 516.69 L433.05 516.71 L433.30 516.73 L433.55 516.75 L433.80 516.77 L434.05 516.79 L434.30 516.80 L434.55 516.82 L434.80 516.83 L435.05 516.84 L435.30 516.86 L435.55 516.87 L435.80 516.88 L436.05 516.89 L436.30 516.90 L436.55 516.91 L436.80 516.92 L437.05 516.93 L437.30 516.93 L437.55 516.94 L437.80 516.95 L438.05 516.95 L438.30 516.96 L438.55 516.97 L438.80 516.97 L439.05 516.98 L439.30 516.98 L439.55 516.99 L439.80 516.99 L440.05 516.99 L440.30 517.00 L440.55 517.00 L440.80 517.00 L441.05 517.01 L441.30 517.01 L441.55 517.01 L441.80 517.01 L442.05 517.02 L442.30 517.02 L442.55 517.02 L442.80 517.02 L443.05 517.03 L443.30 517.03 L443.55 517.03 L443.80 517.03 L444.05 517.03 L444.30 517.03 L444.55 517.03 L444.80 517.03 L445.05 517.03 L445.30 517.04 L445.55 517.04 L445.80 517.04 L446.05 517.04 L446.30 517.04 L446.55 517.04 L446.80 517.04 L447.05 517.04 L447.30 517.04 L447.55 517.04 L447.80 517.04 L448.05 517.04 L448.30 517.04 L448.55 517.03 L448.80 517.03 L449.05 517.03 L449.30 517.03 L449.55 517.03 L449.80 517.03 L450.05 517.03 L450.30 517.03 L450.55 517.03 L450.80 517.02 L451.05 517.02 L451.30 517.02 L451.55 517.02 L451.80 517.02 L452.05 517.01 L452.30 517.01 L452.55 517.01 L452.80 517.01 L453.05 517.00 L453.30 517.00 L453.55 517.00 L453.80 516.99 L454.05 516.99 L454.30 516.99 L454.55 516.98 L454.80 516.98 L455.05 516.97 L455.30 516.97 L455.55 516.96 L455.80 516.96 L456.05 516.95 L456.30 516.95 L456.55 516.94 L456.80 516.94 L457.05 516.93 L457.30 516.92 L457.55 516.92 L457.80 516.91 L458.05 516.90 L458.30 516.89 L458.55 516.89 L458.80 516.88 L459.05 516.87 L459.30 516.86 L459.55 516.85 L459.80 516.84 L460.05 516.83 L460.30 516.81 L460.55 516.80 L460.80 516.79 L461.05 516.77 L461.30 516.76 L461.55 516.74 L461.80 516.73 L462.05 516.71 L462.30 516.69 L462.55 516.67 L462.80 516.65 L463.05 516.63 L463.30 516.61 L463.55 516.58 L463.80 516.56 L464.05 516.53 L464.30 516.50 L464.55 516.47 L464.80 516.43 L465.05 516.39 L465.30 516.35 L465.55 516.31 L465.80 516.27 L466.05 516.22 L466.30 516.16 L466.55 516.10 L466.80 516.04 L467.05 515.97 L467.30 515.90 L467.55 515.81 L467.80 515.71 L468.05 515.60 L468.30 515.47 L468.55 515.30 L468.80 515.09 L469.05 514.82 L469.30 514.44 L469.55 513.93 L469.80 513.22 L470.05 512.22 L470.30 510.82 L470.55 508.90 L470.80 506.28 L471.05 502.76 L471.30 498.13 L471.55 492.16 L471.80 484.64 L472.05 475.37 L472.30 464.23 L472.55 451.20 L472.80 436.35 L473.05 419.93 L473.30 402.32 L473.55 384.08 L473.80 365.91 L474.05 348.64 L474.30 333.16 L474.55 320.38 L474.80 311.14 L475.05 306.09 L475.30 305.62 L475.55 309.77 L475.80 318.22 L476.05 330.36 L476.30 345.37 L476.55 362.36 L476.80 380.41 L477.05 398.70 L477.30 416.48 L477.55 433.18 L477.80 448.37 L478.05 461.78 L478.30 473.29 L478.55 482.93 L478.80 490.79 L479.05 497.05 L479.30 501.93 L479.55 505.65 L479.80 508.44 L480.05 510.49 L480.30 511.97 L480.55 513.04 L480.80 513.81 L481.05 514.36 L481.30 514.75 L481.55 515.04 L481.80 515.27 L482.05 515.44 L482.30 515.58 L482.55 515.69 L482.80 515.79 L483.05 515.88 L483.30 515.96 L483.55 516.03 L483.80 516.09 L484.05 516.15 L484.30 516.21 L484.55 516.26 L484.80 516.31 L485.05 516.35 L485.30 516.39 L485.55 516.43 L485.80 516.46 L486.05 516.49 L486.30 516.52 L486.55 516.55 L486.80 516.58 L487.05 516.61 L487.30 516.63 L487.55 516.65 L487.80 516.67 L488.05 516.69 L488.30 516.71 L488.55 516.73 L488.80 516.75 L489.05 516.76 L489.30 516.78 L489.55 516.79 L489.80 516.80 L490.05 516.82 L490.30 516.83 L490.55 516.84 L490.80 516.85 L491.05 516.86 L491.30 516.87 L491.55 516.88 L491.80 516.89 L492.05 516.90 L492.30 516.91 L492.55 516.92 L492.80 516.92 L493.05 516.93 L493.30 516.94 L493.55 516.95 L493.80 516.95 L494.05 516.96 L494.30 516.96 L494.55 516.97 L494.80 516.97 L495.05 516.98 L495.30 516.99 L495.55 516.99 L495.80 516.99 L496.05 517.00 L496.30 517.00 L496.55 517.01 L496.80 517.01 L497.05 517.01 L497.30 517.02 L497.55 517.02 L497.80 517.03 L498.05 517.03 L498.30 517.03 L498.55 517.03 L498.80 517.04 L499.05 517.04 L499.30 517.04 L499.55 517.05 L499.80 517.05 L500.05 517.05 L500.30 517.05 L500.55 517.05 L500.80 517.06 L501.05 517.06 L501.30 517.06 L501.55 517.06 L501.80 517.06 L502.05 517.07 L502.30 517.07 L502.55 517.07 L502.80 517.07 L503.05 517.07 L503.30 517.07 L503.55 517.08 L503.80 517.08 L504.05 517.08 L504.30 517.08 L504.55 517.08 L504.80 517.08 L505.05 517.08 L505.30 517.08 L505.55 517.08 L505.80 517.08 L506.05 517.09 L506.30 517.09 L506.55 517.09 L506.80 517.09 L507.05 517.09 L507.30 517.09 L507.55 517.09 L507.80 517.09 L508.05 517.09 L508.30 517.09 L508.55 517.09 L508.80 517.09 L509.05 517.09 L509.30 517.09 L509.55 517.09 L509.80 517.09 L510.05 517.09 L510.30 517.09 L510.55 517.09 L510.80 517.09 L511.05 517.09 L511.30 517.09 L511.55 517.09 L511.80 517.09 L512.05 517.09 L512.30 517.09 L512.55 517.09 L512.80 517.09 L513.05 517.09 L513.30 517.09 L513.55 517.09 L513.80 517.09 L514.05 517.09 L514.30 517.09 L514.55 517.08 L514.80 517.08 L515.05 517.08 L515.30 517.08 L515.55 517.08 L515.80 517.08 L516.05 517.08 L516.30 517.08 L516.55 517.08 L516.80 517.08 L517.05 517.07 L517.30 517.07 L517.55 517.07 L517.80 517.07 L518.05 517.07 L518.30 517.07 L518.55 517.06 L518.80 517.06 L519.05 517.06 L519.30 517.06 L519.55 517.06 L519.80 517.05 L520.05 517.05 L520.30 517.05 L520.55 517.05 L520.80 517.04 L521.05 517.04 L521.30 517.04 L521.55 517.04 L521.80 517.03 L522.05 517.03 L522.30 517.03 L522.55 517.02 L522.80 517.02 L523.05 517.02 L523.30 517.01 L523.55 517.01 L523.80 517.00 L524.05 517.00 L524.30 516.99 L524.55 516.99 L524.80 516.98 L525.05 516.98 L525.30 516.97 L525.55 516.97 L525.80 516.96 L526.05 516.95 L526.30 516.94 L526.55 516.94 L526.80 516.93 L527.05 516.92 L527.30 516.91 L527.55 516.90 L527.80 516.89 L528.05 516.88 L528.30 516.87 L528.55 516.86 L528.80 516.85 L529.05 516.83 L529.30 516.82 L529.55 516.80 L529.80 516.79 L530.05 516.77 L530.30 516.75 L530.55 516.73 L530.80 516.71 L531.05 516.68 L531.30 516.66 L531.55 516.63 L531.80 516.60 L532.05 516.57 L532.30 516.53 L532.55 516.49 L532.80 516.44 L533.05 516.39 L533.30 516.32 L533.55 516.24 L533.80 516.14 L534.05 516.00 L534.30 515.81 L534.55 515.55 L534.80 515.19 L535.05 514.67 L535.30 513.95 L535.55 512.95 L535.80 511.59 L536.05 509.75 L536.30 507.34 L536.55 504.25 L536.80 500.37 L537.05 495.62 L537.30 489.96 L537.55 483.41 L537.80 476.04 L538.05 468.01 L538.30 459.57 L538.55 451.04 L538.80 442.78 L539.05 435.25 L539.30 428.88 L539.55 424.11 L539.80 421.27 L540.05 420.60 L540.30 422.15 L540.55 425.79 L540.80 431.25 L541.05 438.13 L541.30 446.00 L541.55 454.41 L541.80 462.95 L542.05 471.26 L542.30 479.04 L542.55 486.09 L542.80 492.29 L543.05 497.58 L543.30 501.97 L543.55 505.52 L543.80 508.32 L544.05 510.48 L544.30 512.11 L544.55 513.31 L544.80 514.19 L545.05 514.82 L545.30 515.26 L545.55 515.57 L545.80 515.80 L546.05 515.96 L546.30 516.07 L546.55 516.16 L546.80 516.23 L547.05 516.28 L547.30 516.33 L547.55 516.37 L547.80 516.40 L548.05 516.43 L548.30 516.45 L548.55 516.48 L548.80 516.50 L549.05 516.51 L549.30 516.53 L549.55 516.54 L549.80 516.55 L550.05 516.56 L550.30 516.57 L550.55 516.58 L550.80 516.59 L551.05 516.59 L551.30 516.60 L551.55 516.60 L551.80 516.60 L552.05 516.60 L552.30 516.60 L552.55 516.60 L552.80 516.59 L553.05 516.59 L553.30 516.58 L553.55 516.58 L553.80 516.57 L554.05 516.56 L554.30 516.55 L554.55 516.54 L554.80 516.53 L555.05 516.51 L555.30 516.50 L555.55 516.48 L555.80 516.46 L556.05 516.44 L556.30 516.42 L556.55 516.40 L556.80 516.37 L557.05 516.35 L557.30 516.32 L557.55 516.29 L557.80 516.25 L558.05 516.21 L558.30 516.17 L558.55 516.13 L558.80 516.08 L559.05 516.03 L559.30 515.98 L559.55 515.91 L559.80 515.85 L560.05 515.77 L560.30 515.69 L560.55 515.60 L560.80 515.49 L561.05 515.37 L561.30 515.21 L561.55 515.03 L561.80 514.78 L562.05 514.46 L562.30 514.01 L562.55 513.40 L562.80 512.53 L563.05 511.33 L563.30 509.66 L563.55 507.35 L563.80 504.23 L564.05 500.08 L564.30 494.66 L564.55 487.73 L564.80 479.08 L565.05 468.52 L565.30 455.96 L565.55 441.42 L565.80 425.05 L566.05 407.15 L566.30 388.22 L566.55 368.90 L566.80 350.00 L567.05 332.41 L567.30 317.10 L567.55 305.01 L567.80 296.96 L568.05 293.53 L568.30 295.01 L568.55 301.27 L568.80 311.83 L569.05 325.97 L569.30 342.76 L569.55 361.25 L569.80 380.51 L570.05 399.68 L570.30 418.06 L570.55 435.09 L570.80 450.40 L571.05 463.76 L571.30 475.11 L571.55 484.51 L571.80 492.11 L572.05 498.10 L572.30 502.74 L572.55 506.24 L572.80 508.85 L573.05 510.76 L573.30 512.13 L573.55 513.12 L573.80 513.83 L574.05 514.34 L574.30 514.70 L574.55 514.98 L574.80 515.19 L575.05 515.36 L575.30 515.49 L575.55 515.61 L575.80 515.71 L576.05 515.80 L576.30 515.88 L576.55 515.95 L576.80 516.02 L577.05 516.08 L577.30 516.13 L577.55 516.19 L577.80 516.23 L578.05 516.28 L578.30 516.32 L578.55 516.36 L578.80 516.40 L579.05 516.43 L579.30 516.46 L579.55 516.49 L579.80 516.52 L580.05 516.55 L580.30 516.57 L580.55 516.59 L580.80 516.62 L581.05 516.64 L581.30 516.66 L581.55 516.67 L581.80 516.69 L582.05 516.71 L582.30 516.73 L582.55 516.74 L582.80 516.75 L583.05 516.77 L583.30 516.78 L583.55 516.79 L583.80 516.81 L584.05 516.82 L584.30 516.83 L584.55 516.84 L584.80 516.85 L585.05 516.86 L585.30 516.87 L585.55 516.87 L585.80 516.88 L586.05 516.89 L586.30 516.90 L586.55 516.91 L586.80 516.91 L587.05 516.92 L587.30 516.93 L587.55 516.93 L587.80 516.94 L588.05 516.94 L588.30 516.95 L588.55 516.95 L588.80 516.96 L589.05 516.96 L589.30 516.97 L589.55 516.97 L589.80 516.98 L590.05 516.98 L590.30 516.99 L590.55 516.99 L590.80 516.99 L591.05 517.00 L591.30 517.00 L591.55 517.00 L591.80 517.01 L592.05 517.01 L592.30 517.01 L592.55 517.01 L592.80 517.02 L593.05 517.02 L593.30 517.02 L593.55 517.02 L593.80 517.03 L594.05 517.03 L594.30 517.03 L594.55 517.03 L594.80 517.04 L595.05 517.04 L595.30 517.04 L595.55 517.04 L595.80 517.04 L596.05 517.04 L596.30 517.04 L596.55 517.05 L596.80 517.05 L597.05 517.05 L597.30 517.05 L597.55 517.05 L597.80 517.05 L598.05 517.05 L598.30 517.05 L598.55 517.05 L598.80 517.05 L599.05 517.05 L599.30 517.05 L599.55 517.05 L599.80 517.05 L600.05 517.05 L600.30 517.05 L600.55 517.05 L600.80 517.05 L601.05 517.05 L601.30 517.05 L601.55 517.05 L601.80 517.05 L602.05 517.05 L602.30 517.04 L602.55 517.04 L602.80 517.03 L603.05 517.02 L603.30 517.01 L603.55 516.98 L603.80 516.95 L604.05 516.90 L604.30 516.83 L604.55 516.73 L604.80 516.59 L605.05 516.40 L605.30 516.14 L605.55 515.81 L605.80 515.40 L606.05 514.89 L606.30 514.29 L606.55 513.59 L606.80 512.82 L607.05 511.99 L607.30 511.13 L607.55 510.28 L607.80 509.49 L608.05 508.81 L608.30 508.28 L608.55 507.94 L608.80 507.83 L609.05 507.95 L609.30 508.29 L609.55 508.83 L609.80 509.52 L610.05 510.31 L610.30 511.16 L610.55 512.02 L610.80 512.86 L611.05 513.64 L611.30 514.34 L611.55 514.95 L611.80 515.46 L612.05 515.88 L612.30 516.22 L612.55 516.48 L612.80 516.67 L613.05 516.82 L613.30 516.93 L613.55 517.00 L613.80 517.06 L614.05 517.10 L614.30 517.12 L614.55 517.15 L614.80 517.16 L615.05 517.17 L615.30 517.18 L615.55 517.19 L615.80 517.20 L616.05 517.21 L616.30 517.21 L616.55 517.22 L616.80 517.22 L617.05 517.23 L617.30 517.23 L617.55 517.24 L617.80 517.24 L618.05 517.25 L618.30 517.25 L618.55 517.26 L618.80 517.26 L619.05 517.26 L619.30 517.27 L619.55 517.27 L619.80 517.27 L620.05 517.28 L620.30 517.28 L620.55 517.28 L620.80 517.29 L621.05 517.29 L621.30 517.29 L621.55 517.30 L621.80 517.30 L622.05 517.30 L622.30 517.31 L622.55 517.31 L622.80 517.31 L623.05 517.31 L623.30 517.32 L623.55 517.32 L623.80 517.32 L624.05 517.32 L624.30 517.33 L624.55 517.33 L624.80 517.33 L625.05 517.34 L625.30 517.34 L625.55 517.34 L625.80 517.34 L626.05 517.35 L626.30 517.35 L626.55 517.35 L626.80 517.35 L627.05 517.35 L627.30 517.36 L627.55 517.36 L627.80 517.36 L628.05 517.36 L628.30 517.37 L628.55 517.37 L628.80 517.37 L629.05 517.37 L629.30 517.38 L629.55 517.38 L629.80 517.38 L630.05 517.38 L630.30 517.39 L630.55 517.39 L630.80 517.39 L631.05 517.39 L631.30 517.39 L631.55 517.40 L631.80 517.40 L632.05 517.40 L632.30 517.40 L632.55 517.41 L632.80 517.41 L633.05 517.41 L633.30 517.41 L633.55 517.41 L633.80 517.42 L634.05 517.42 L634.30 517.42 L634.55 517.42 L634.80 517.43 L635.05 517.43 L635.30 517.43 L635.55 517.43 L635.80 517.43 L636.05 517.44 L636.30 517.44 L636.55 517.44 L636.80 517.44 L637.05 517.44 L637.30 517.45 L637.55 517.45 L637.80 517.45 L638.05 517.45 L638.30 517.46 L638.55 517.46 L638.80 517.46 L639.05 517.46 L639.30 517.46 L639.55 517.47 L639.80 517.47 L640.05 517.47 L640.30 517.47 L640.55 517.47 L640.80 517.47 L641.05 517.47 L641.30 517.47 L641.55 517.47 L641.80 517.47 L642.05 517.47 L642.30 517.47 L642.55 517.47 L642.80 517.47 L643.05 517.47 L643.30 517.47 L643.55 517.47 L643.80 517.47 L644.05 517.47 L644.30 517.47 L644.55 517.47 L644.80 517.47 L645.05 517.47 L645.30 517.47 L645.55 517.47 L645.80 517.47 L646.05 517.47 L646.30 517.47 L646.55 517.47 L646.80 517.47 L647.05 517.47 L647.30 517.47 L647.55 517.47 L647.80 517.47 L648.05 517.47 L648.30 517.48 L648.55 517.48 L648.80 517.48 L649.05 517.48 L649.30 517.48 L649.55 517.48 L649.80 517.48 L650.05 517.48 L650.30 517.48 L650.55 517.48 L650.80 517.48 L651.05 517.48 L651.30 517.48 L651.55 517.48 L651.80 517.48 L652.05 517.48 L652.30 517.48 L652.55 517.48 L652.80 517.48 L653.05 517.48 L653.30 517.48 L653.55 517.48 L653.80 517.48 L654.05 517.48 L654.30 517.48 L654.55 517.48 L654.80 517.48 L655.05 517.48 L655.30 517.48 L655.55 517.48 L655.80 517.48 L656.05 517.48 L656.30 517.48 L656.55 517.48 L656.80 517.48 L657.05 517.48 L657.30 517.48 L657.55 517.48 L657.80 517.48 L658.05 517.48" fill="none" stroke="#3fa3f2" stroke-width="1.05" stroke-linejoin="round"/>
<g font-family="Liberation Sans, sans-serif" font-size="11.3" fill="#1a1a1a" text-anchor="middle">
<text transform="rotate(0.03 163.8 269.8)" x="163.8" y="269.8" font-size="12.3" textLength="14.7" lengthAdjust="spacingAndGlyphs">3.0</text>
<text transform="rotate(0.03 363.5 269.8)" x="363.5" y="269.8" font-size="12.3" textLength="14.7" lengthAdjust="spacingAndGlyphs">4.0</text>
<text transform="rotate(0.03 566.9 269.8)" x="566.9" y="269.8" font-size="12.3" textLength="14.7" lengthAdjust="spacingAndGlyphs">5.0</text>
<text transform="rotate(0.03 69.7 538.9)" x="69.7" y="538.9" textLength="21.05" lengthAdjust="spacingAndGlyphs">22.0</text>
<text transform="rotate(0.03 128.7 538.9)" x="128.7" y="538.9" textLength="21.05" lengthAdjust="spacingAndGlyphs">23.0</text>
<text transform="rotate(0.03 187.7 538.9)" x="187.7" y="538.9" textLength="21.05" lengthAdjust="spacingAndGlyphs">24.0</text>
<text transform="rotate(0.03 244.7 538.9)" x="244.7" y="538.9" textLength="21.05" lengthAdjust="spacingAndGlyphs">25.0</text>
<text transform="rotate(0.03 302.7 538.9)" x="302.7" y="538.9" textLength="21.05" lengthAdjust="spacingAndGlyphs">26.0</text>
<text transform="rotate(0.03 361.7 538.9)" x="361.7" y="538.9" textLength="21.05" lengthAdjust="spacingAndGlyphs">27.0</text>
<text transform="rotate(0.03 420.7 538.9)" x="420.7" y="538.9" textLength="21.05" lengthAdjust="spacingAndGlyphs">28.0</text>
<text transform="rotate(0.03 477.7 538.9)" x="477.7" y="538.9" textLength="21.05" lengthAdjust="spacingAndGlyphs">29.0</text>
<text transform="rotate(0.03 534.7 538.9)" x="534.7" y="538.9" textLength="21.05" lengthAdjust="spacingAndGlyphs">30.0</text>
<text transform="rotate(0.03 593.7 538.9)" x="593.7" y="538.9" textLength="21.05" lengthAdjust="spacingAndGlyphs">31.0</text>
<text transform="rotate(0.03 652.7 538.9)" x="652.7" y="538.9" textLength="21.05" lengthAdjust="spacingAndGlyphs">32.0</text>
</g>
<g font-family="Liberation Sans, sans-serif" font-size="13.3" fill="#0a0a0a" stroke="#0a0a0a" stroke-width="0.18">
<text transform="rotate(0.03 42.99 52.00)"><tspan x="42.99" y="52.00" font-weight="bold" textLength="51.27" lengthAdjust="spacingAndGlyphs">Column:</tspan> <tspan x="142.50" y="52.00" textLength="27.51" lengthAdjust="spacingAndGlyphs">Core</tspan> <tspan x="174.24" y="52.00" textLength="26.77" lengthAdjust="spacingAndGlyphs">Shell</tspan> <tspan x="204.47" y="52.00" textLength="17.07" lengthAdjust="spacingAndGlyphs">C8,</tspan> <tspan x="225.24" y="52.00" textLength="18.27" lengthAdjust="spacingAndGlyphs">150</tspan> <tspan x="247.77" y="52.00" textLength="5.70" lengthAdjust="spacingAndGlyphs">x</tspan> <tspan x="258.74" y="52.00" textLength="41.78" lengthAdjust="spacingAndGlyphs">2.1mm,</tspan> <tspan x="305.50" y="52.00" textLength="15.26" lengthAdjust="spacingAndGlyphs">2.6</tspan> <tspan x="324.45" y="52.00" textLength="21.61" lengthAdjust="spacingAndGlyphs">µm</tspan></text>
<text transform="rotate(0.03 42.98 68.72)"><tspan x="42.98" y="68.72" font-weight="bold" textLength="43.05" lengthAdjust="spacingAndGlyphs">Eluent:</tspan> <tspan x="142.75" y="68.72" textLength="28.25" lengthAdjust="spacingAndGlyphs">0.1%</tspan> <tspan x="175.25" y="68.72" textLength="24.75" lengthAdjust="spacingAndGlyphs">w/w</tspan> <tspan x="204.00" y="68.72" textLength="35.50" lengthAdjust="spacingAndGlyphs">formic</tspan> <tspan x="243.74" y="68.72" textLength="27.03" lengthAdjust="spacingAndGlyphs">acid,</tspan></text>
<text transform="rotate(0.03 142.49 85.44)"><tspan x="142.49" y="85.44" textLength="65.02" lengthAdjust="spacingAndGlyphs">ammonium</tspan> <tspan x="214.50" y="85.44" textLength="44.25" lengthAdjust="spacingAndGlyphs">formate</tspan> <tspan x="262.22" y="85.44" textLength="49.80" lengthAdjust="spacingAndGlyphs">10mMol</tspan> <tspan x="315.48" y="85.44" textLength="15.30" lengthAdjust="spacingAndGlyphs">(A)</tspan> <tspan x="332.90" y="85.44" textLength="4.50" lengthAdjust="spacingAndGlyphs">:</tspan> <tspan x="339.25" y="85.44" textLength="66.01" lengthAdjust="spacingAndGlyphs">acetonitrile</tspan> <tspan x="408.97" y="85.44" textLength="15.56" lengthAdjust="spacingAndGlyphs">(B)</tspan></text>
<text transform="rotate(0.03 43.23 102.16)"><tspan x="43.23" y="102.16" font-weight="bold" textLength="33.05" lengthAdjust="spacingAndGlyphs">Flow:</tspan> <tspan x="142.49" y="102.16" textLength="25.02" lengthAdjust="spacingAndGlyphs">0.25</tspan> <tspan x="171.73" y="102.16" textLength="48.31" lengthAdjust="spacingAndGlyphs">mL/min.</tspan></text>
<text transform="rotate(0.03 42.74 118.88)"><tspan x="42.74" y="118.88" font-weight="bold" textLength="57.52" lengthAdjust="spacingAndGlyphs">Gradient:</tspan> <tspan x="143.23" y="118.88" textLength="25.28" lengthAdjust="spacingAndGlyphs">15%</tspan> <tspan x="171.93" y="118.88" textLength="8.12" lengthAdjust="spacingAndGlyphs">B</tspan> <tspan x="182.74" y="118.88" textLength="6.02" lengthAdjust="spacingAndGlyphs">–</tspan> <tspan x="192.00" y="118.88" textLength="21.99" lengthAdjust="spacingAndGlyphs">80%</tspan> <tspan x="218.65" y="118.88" textLength="8.91" lengthAdjust="spacingAndGlyphs">B</tspan></text>
<text transform="rotate(0.03 42.75 135.60)"><tspan x="42.75" y="135.60" font-weight="bold" textLength="52.25" lengthAdjust="spacingAndGlyphs">Gradient</tspan> <tspan x="96.75" y="135.60" font-weight="bold" textLength="35.52" lengthAdjust="spacingAndGlyphs">Time:</tspan> <tspan x="142.75" y="135.60" textLength="13.24" lengthAdjust="spacingAndGlyphs">As</tspan> <tspan x="160.00" y="135.60" textLength="38.01" lengthAdjust="spacingAndGlyphs">shown</tspan> <tspan x="201.94" y="135.60" textLength="10.38" lengthAdjust="spacingAndGlyphs">in</tspan> <tspan x="215.00" y="135.60" textLength="29.25" lengthAdjust="spacingAndGlyphs">Table</tspan> <tspan x="248.16" y="135.60" textLength="8.67" lengthAdjust="spacingAndGlyphs">2</tspan></text>
<text transform="rotate(0.03 48.99 320.00)"><tspan x="48.99" y="320.00" font-weight="bold" textLength="51.27" lengthAdjust="spacingAndGlyphs">Column:</tspan> <tspan x="142.74" y="320.00" textLength="27.02" lengthAdjust="spacingAndGlyphs">Fully</tspan> <tspan x="173.99" y="320.00" textLength="37.02" lengthAdjust="spacingAndGlyphs">Porous</tspan> <tspan x="214.73" y="320.00" textLength="17.55" lengthAdjust="spacingAndGlyphs">C8,</tspan> <tspan x="237.00" y="320.00" textLength="11.99" lengthAdjust="spacingAndGlyphs">75</tspan> <tspan x="254.02" y="320.00" textLength="5.72" lengthAdjust="spacingAndGlyphs">x</tspan> <tspan x="264.25" y="320.00" textLength="42.26" lengthAdjust="spacingAndGlyphs">4.6mm,</tspan> <tspan x="311.24" y="320.00" textLength="14.52" lengthAdjust="spacingAndGlyphs">1.8</tspan> <tspan x="329.95" y="320.00" textLength="21.36" lengthAdjust="spacingAndGlyphs">µm</tspan></text>
<text transform="rotate(0.03 48.98 336.72)"><tspan x="48.98" y="336.72" font-weight="bold" textLength="43.05" lengthAdjust="spacingAndGlyphs">Eluent:</tspan> <tspan x="142.75" y="336.72" textLength="28.25" lengthAdjust="spacingAndGlyphs">0.1%</tspan> <tspan x="175.25" y="336.72" textLength="24.75" lengthAdjust="spacingAndGlyphs">w/w</tspan> <tspan x="204.00" y="336.72" textLength="35.50" lengthAdjust="spacingAndGlyphs">formic</tspan> <tspan x="243.74" y="336.72" textLength="27.03" lengthAdjust="spacingAndGlyphs">acid,</tspan></text>
<text transform="rotate(0.03 142.49 353.44)"><tspan x="142.49" y="353.44" textLength="65.02" lengthAdjust="spacingAndGlyphs">ammonium</tspan> <tspan x="214.50" y="353.44" textLength="44.25" lengthAdjust="spacingAndGlyphs">formate</tspan> <tspan x="262.22" y="353.44" textLength="49.80" lengthAdjust="spacingAndGlyphs">10mMol</tspan> <tspan x="315.48" y="353.44" textLength="15.30" lengthAdjust="spacingAndGlyphs">(A)</tspan> <tspan x="332.90" y="353.44" textLength="4.50" lengthAdjust="spacingAndGlyphs">:</tspan> <tspan x="339.25" y="353.44" textLength="66.01" lengthAdjust="spacingAndGlyphs">acetonitrile</tspan> <tspan x="408.97" y="353.44" textLength="15.56" lengthAdjust="spacingAndGlyphs">(B)</tspan></text>
<text transform="rotate(0.03 49.23 370.16)"><tspan x="49.23" y="370.16" font-weight="bold" textLength="33.05" lengthAdjust="spacingAndGlyphs">Flow:</tspan> <tspan x="142.49" y="370.16" textLength="25.02" lengthAdjust="spacingAndGlyphs">0.25</tspan> <tspan x="171.73" y="370.16" textLength="48.31" lengthAdjust="spacingAndGlyphs">mL/min.</tspan></text>
<text transform="rotate(0.03 48.74 386.88)"><tspan x="48.74" y="386.88" font-weight="bold" textLength="57.52" lengthAdjust="spacingAndGlyphs">Gradient:</tspan> <tspan x="143.23" y="386.88" textLength="25.28" lengthAdjust="spacingAndGlyphs">15%</tspan> <tspan x="171.93" y="386.88" textLength="8.12" lengthAdjust="spacingAndGlyphs">B</tspan> <tspan x="182.74" y="386.88" textLength="6.02" lengthAdjust="spacingAndGlyphs">–</tspan> <tspan x="192.00" y="386.88" textLength="21.99" lengthAdjust="spacingAndGlyphs">80%</tspan> <tspan x="218.65" y="386.88" textLength="8.91" lengthAdjust="spacingAndGlyphs">B</tspan></text>
<text transform="rotate(0.03 48.75 403.60)"><tspan x="48.75" y="403.60" font-weight="bold" textLength="52.25" lengthAdjust="spacingAndGlyphs">Gradient</tspan> <tspan x="102.75" y="403.60" font-weight="bold" textLength="35.52" lengthAdjust="spacingAndGlyphs">Time:</tspan> <tspan x="142.75" y="403.60" textLength="13.24" lengthAdjust="spacingAndGlyphs">As</tspan> <tspan x="160.00" y="403.60" textLength="38.01" lengthAdjust="spacingAndGlyphs">shown</tspan> <tspan x="201.94" y="403.60" textLength="10.38" lengthAdjust="spacingAndGlyphs">in</tspan> <tspan x="215.00" y="403.60" textLength="29.25" lengthAdjust="spacingAndGlyphs">Table</tspan> <tspan x="248.16" y="403.60" textLength="8.67" lengthAdjust="spacingAndGlyphs">2</tspan></text>
</g>
<g fill="#ffe9f1" stroke="#fca2c6" stroke-width="1.8" style="mix-blend-mode:multiply">
<circle cx="383.1" cy="234.9" r="45"/>
<circle cx="418.0" cy="498.1" r="44.9"/>
</g>
</svg>
</body></html>
